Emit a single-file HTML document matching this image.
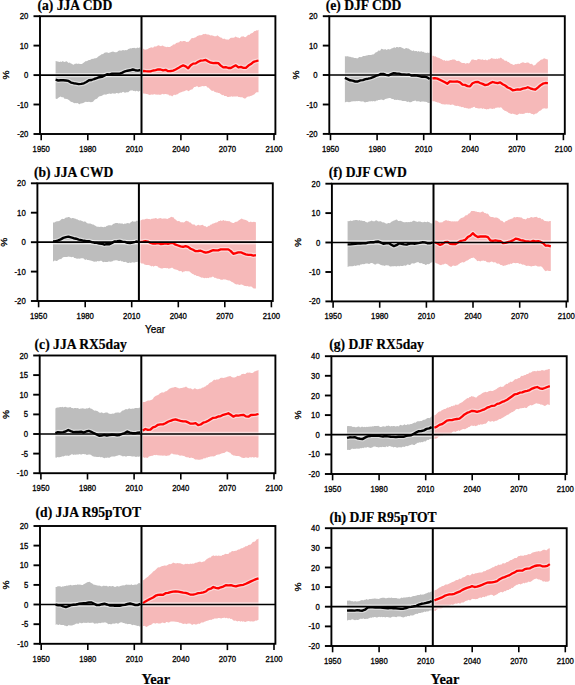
<!DOCTYPE html>
<html><head><meta charset="utf-8"><style>
html,body{margin:0;padding:0;background:#fff;}
svg{display:block;}
.tl{font-family:"Liberation Sans",sans-serif;font-size:8.4px;fill:#000;stroke:#000;stroke-width:0.3px;}
.pc{font-family:"Liberation Sans",sans-serif;font-size:10px;fill:#000;stroke:#000;stroke-width:0.3px;}
.tt{font-family:"Liberation Serif",serif;font-size:13.6px;font-weight:bold;fill:#000;stroke:#000;stroke-width:0.2px;}
.ys{font-family:"Liberation Sans",sans-serif;font-size:10px;fill:#000;stroke:#000;stroke-width:0.25px;}
.yb{font-family:"Liberation Serif",serif;font-size:14.4px;font-weight:bold;fill:#000;stroke:#000;stroke-width:0.2px;}
</style></head><body>
<svg width="575" height="685" viewBox="0 0 575 685">
<rect width="575" height="685" fill="#fff"/>
<path d="M55.6,61 L56.6,61.2 L57.7,61.6 L58.7,61.7 L59.7,62.1 L60.7,61.4 L61.7,61.9 L62.7,61.1 L63.7,61.8 L64.7,62 L65.7,61.4 L66.7,61.2 L67.7,62.3 L68.7,62.9 L69.8,62.4 L70.8,63.5 L71.8,63.7 L72.8,64.5 L73.8,64.8 L74.8,63.8 L75.8,63.8 L76.8,63.6 L77.8,63.9 L78.8,63.4 L79.8,63.9 L80.9,64.1 L81.9,64 L82.9,63.2 L83.9,62.4 L84.9,61.8 L85.9,61.1 L86.9,61.2 L87.9,60.4 L88.9,59.9 L89.9,60 L90.9,59.4 L92,58.8 L93,59 L94,58.5 L95,58.2 L96,58.3 L97,57.8 L98,56.7 L99,56 L100,55.6 L101,54.7 L102,54.1 L103,54.3 L104.1,53 L105.1,52.4 L106.1,52.6 L107.1,52.3 L108.1,53.1 L109.1,52.7 L110.1,52.6 L111.1,52.1 L112.1,51.8 L113.1,51.5 L114.1,52 L115.2,52.2 L116.2,52.3 L117.2,52 L118.2,51.1 L119.2,50.4 L120.2,50.5 L121.2,50.7 L122.2,50.2 L123.2,50.1 L124.2,50.4 L125.2,50 L126.2,50.2 L127.3,50 L128.3,49.1 L129.3,48.8 L130.3,48.3 L131.3,48.6 L132.3,48 L133.3,47.9 L134.3,47.7 L135.3,48.2 L136.3,48.2 L137.3,47.4 L138.4,48 L139.4,47.4 L140.4,47.6 L140.4,90.6 L139.4,91 L138.4,91.7 L137.3,91 L136.3,90.7 L135.3,91.4 L134.3,90.8 L133.3,90.9 L132.3,90.2 L131.3,90.4 L130.3,90.5 L129.3,91.2 L128.3,92.2 L127.3,92.3 L126.2,92.3 L125.2,92.8 L124.2,92.5 L123.2,91.7 L122.2,92.2 L121.2,93.1 L120.2,92.6 L119.2,93.3 L118.2,93.4 L117.2,92.9 L116.2,93.1 L115.2,93.7 L114.1,93.5 L113.1,93.5 L112.1,93.2 L111.1,93.9 L110.1,93.8 L109.1,93.5 L108.1,94.1 L107.1,94 L106.1,94.7 L105.1,94.4 L104.1,94.4 L103,95 L102,95.7 L101,96.1 L100,96.3 L99,96.4 L98,97.4 L97,98.7 L96,99.1 L95,99.6 L94,100.4 L93,101.8 L92,101.9 L90.9,102.2 L89.9,102 L88.9,101.8 L87.9,102 L86.9,101.9 L85.9,101.8 L84.9,101.9 L83.9,102.7 L82.9,103 L81.9,103.4 L80.9,103.3 L79.8,104.2 L78.8,103.9 L77.8,103 L76.8,103.3 L75.8,103.1 L74.8,103.3 L73.8,102.9 L72.8,102.2 L71.8,102 L70.8,101.8 L69.8,100.8 L68.7,100 L67.7,99.3 L66.7,98.9 L65.7,98.7 L64.7,98.9 L63.7,97.6 L62.7,97.3 L61.7,97.3 L60.7,96.6 L59.7,96.9 L58.7,97.6 L57.7,98.6 L56.6,98.9 L55.6,98.4Z" fill="#bdbdbd"/>
<path d="M143,48.6 L144,49.3 L145,49.7 L146,49.6 L147,49.3 L148,49 L149,48 L150,48.1 L151,47.3 L152,47.6 L153.1,47.7 L154.1,46.4 L155.1,46.4 L156.1,46.4 L157.1,45.9 L158.1,45.3 L159.1,45.6 L160.1,46 L161.1,46.2 L162.1,45.6 L163.1,45.7 L164.1,46.5 L165.1,46.6 L166.1,47.2 L167.1,46.7 L168.1,47 L169.1,47 L170.1,47 L171.1,45.9 L172.1,45.8 L173.1,44.4 L174.1,44.5 L175.1,44.2 L176.1,43.1 L177.1,42.7 L178.2,42.5 L179.2,42.3 L180.2,41.1 L181.2,41.3 L182.2,41.4 L183.2,40.9 L184.2,41.1 L185.2,40.9 L186.2,42 L187.2,41.7 L188.2,41.9 L189.2,41.1 L190.2,39.9 L191.2,38.4 L192.2,37.9 L193.2,38.3 L194.2,37.8 L195.2,37.4 L196.2,37 L197.2,36 L198.2,35.7 L199.2,35.2 L200.2,35.3 L201.2,35.2 L202.3,34.7 L203.3,33.9 L204.3,34.3 L205.3,33.7 L206.3,34.2 L207.3,34.4 L208.3,34.5 L209.3,34.8 L210.3,35.4 L211.3,35.3 L212.3,35.5 L213.3,35.7 L214.3,36.3 L215.3,36.2 L216.3,36.3 L217.3,35.3 L218.3,36.1 L219.3,36.7 L220.3,37.4 L221.3,37.6 L222.3,38.4 L223.3,39 L224.3,38.4 L225.3,39.3 L226.3,39.5 L227.4,39.4 L228.4,39.8 L229.4,39.1 L230.4,38.1 L231.4,37.7 L232.4,37.7 L233.4,37.8 L234.4,37.6 L235.4,36.5 L236.4,36.9 L237.4,37.6 L238.4,37.6 L239.4,38.2 L240.4,37.4 L241.4,36.4 L242.4,36.5 L243.4,36.3 L244.4,37 L245.4,37.2 L246.4,36.6 L247.4,35.4 L248.4,34.7 L249.4,34.9 L250.4,33.7 L251.5,33.2 L252.5,33 L253.5,31.9 L254.5,30.9 L255.5,31 L256.5,30.2 L257.5,30.4 L258.5,29.8 L258.5,92.3 L257.5,92.3 L256.5,92.3 L255.5,93.1 L254.5,94.2 L253.5,94.8 L252.5,95.3 L251.5,95.8 L250.4,95.9 L249.4,96.5 L248.4,96.6 L247.4,96.7 L246.4,97.5 L245.4,98.6 L244.4,98.6 L243.4,97.9 L242.4,97.2 L241.4,97.2 L240.4,97.2 L239.4,96.9 L238.4,96.9 L237.4,96.3 L236.4,96.4 L235.4,96.6 L234.4,96.6 L233.4,96.5 L232.4,96.7 L231.4,96.3 L230.4,96.7 L229.4,96.7 L228.4,96.9 L227.4,96.9 L226.3,96.1 L225.3,96.1 L224.3,95.9 L223.3,94.8 L222.3,95.2 L221.3,94.6 L220.3,93.7 L219.3,93 L218.3,92.9 L217.3,92.5 L216.3,92.4 L215.3,91.9 L214.3,91.7 L213.3,90.6 L212.3,91.1 L211.3,90.5 L210.3,89.5 L209.3,88.4 L208.3,87.6 L207.3,87.4 L206.3,86.1 L205.3,86.1 L204.3,86.2 L203.3,86.3 L202.3,85.9 L201.2,86.4 L200.2,86.7 L199.2,87.1 L198.2,87.3 L197.2,85.9 L196.2,86.5 L195.2,87 L194.2,87.1 L193.2,88.3 L192.2,89.6 L191.2,89.4 L190.2,90 L189.2,90.8 L188.2,91.2 L187.2,90.3 L186.2,90.3 L185.2,90.7 L184.2,91.3 L183.2,91.6 L182.2,91.8 L181.2,92.2 L180.2,92.5 L179.2,93 L178.2,93.8 L177.1,94.5 L176.1,94.4 L175.1,95.2 L174.1,94.6 L173.1,95.5 L172.1,96.4 L171.1,95.6 L170.1,95.4 L169.1,95.4 L168.1,94.3 L167.1,94.6 L166.1,94.1 L165.1,93.9 L164.1,94.3 L163.1,94.2 L162.1,93.7 L161.1,94.7 L160.1,94.8 L159.1,94.8 L158.1,94.4 L157.1,94.7 L156.1,94.5 L155.1,94.5 L154.1,94 L153.1,94.7 L152,94.6 L151,94.5 L150,95 L149,94.7 L148,94.2 L147,93.9 L146,94 L145,93.4 L144,93.7 L143,93.3Z" fill="#f6b9b9"/>
<path d="M40,75.1H275.4" stroke="#fff" stroke-opacity="0.55" stroke-width="4.4"/>
<path d="M55.6,79.7 L58.2,80.5 L60.8,80.2 L63.3,80.2 L65.9,80.5 L68.5,80.9 L71,82.6 L73.6,83.2 L76.2,83.6 L78.7,84.1 L81.3,83.9 L83.9,83.3 L86.4,82 L89,80.3 L91.6,80 L94.2,79 L96.7,78.2 L99.3,77.2 L101.9,76.8 L104.4,75.6 L107,74.2 L109.6,74.4 L112.1,73.7 L114.7,73.6 L117.3,73.6 L119.8,73.6 L122.4,72.6 L125,71.3 L127.5,70.7 L130.1,70.3 L132.7,69.5 L135.2,70.2 L137.8,70.6 L140.4,70" fill="none" stroke="#fff" stroke-opacity="0.45" stroke-width="4.8" stroke-linejoin="round"/>
<path d="M143,71 L145.5,71.2 L148,71.3 L150.5,71.4 L153.1,70.5 L155.6,70.1 L158.1,69.4 L160.6,69.5 L163.1,70.3 L165.6,69.8 L168.1,71.2 L170.6,71 L173.1,70.6 L175.6,69.5 L178.2,68.1 L180.7,66.5 L183.2,65.4 L185.7,66.3 L188.2,68.3 L190.7,65.3 L193.2,63.6 L195.7,63.4 L198.2,61.7 L200.7,60.6 L203.3,60.4 L205.8,59.9 L208.3,61.4 L210.8,62.7 L213.3,63.2 L215.8,62.8 L218.3,63.2 L220.8,65.6 L223.3,67.4 L225.8,67.2 L228.4,68 L230.9,68 L233.4,66.6 L235.9,65.3 L238.4,67.3 L240.9,66.9 L243.4,67.8 L245.9,67.8 L248.4,65.6 L250.9,64.1 L253.5,61.8 L256,61.2 L258.5,60.5" fill="none" stroke="#fff" stroke-opacity="0.45" stroke-width="4.8" stroke-linejoin="round"/>
<path d="M55.6,79.7 L58.2,80.5 L60.8,80.2 L63.3,80.2 L65.9,80.5 L68.5,80.9 L71,82.6 L73.6,83.2 L76.2,83.6 L78.7,84.1 L81.3,83.9 L83.9,83.3 L86.4,82 L89,80.3 L91.6,80 L94.2,79 L96.7,78.2 L99.3,77.2 L101.9,76.8 L104.4,75.6 L107,74.2 L109.6,74.4 L112.1,73.7 L114.7,73.6 L117.3,73.6 L119.8,73.6 L122.4,72.6 L125,71.3 L127.5,70.7 L130.1,70.3 L132.7,69.5 L135.2,70.2 L137.8,70.6 L140.4,70" fill="none" stroke="#000" stroke-width="2.4" stroke-linejoin="round"/>
<path d="M143,71 L145.5,71.2 L148,71.3 L150.5,71.4 L153.1,70.5 L155.6,70.1 L158.1,69.4 L160.6,69.5 L163.1,70.3 L165.6,69.8 L168.1,71.2 L170.6,71 L173.1,70.6 L175.6,69.5 L178.2,68.1 L180.7,66.5 L183.2,65.4 L185.7,66.3 L188.2,68.3 L190.7,65.3 L193.2,63.6 L195.7,63.4 L198.2,61.7 L200.7,60.6 L203.3,60.4 L205.8,59.9 L208.3,61.4 L210.8,62.7 L213.3,63.2 L215.8,62.8 L218.3,63.2 L220.8,65.6 L223.3,67.4 L225.8,67.2 L228.4,68 L230.9,68 L233.4,66.6 L235.9,65.3 L238.4,67.3 L240.9,66.9 L243.4,67.8 L245.9,67.8 L248.4,65.6 L250.9,64.1 L253.5,61.8 L256,61.2 L258.5,60.5" fill="none" stroke="#ff0000" stroke-width="2.3" stroke-linejoin="round"/>
<path d="M40,75.1H275.4" stroke="#000" stroke-width="1.7"/>
<path d="M141.5,16.2V134" stroke="#000" stroke-width="2"/>
<rect x="40" y="16.2" width="235.4" height="117.8" fill="none" stroke="#000" stroke-width="1.9"/>
<path d="M33.5,134H40" stroke="#000" stroke-width="1.9"/>
<text transform="translate(28.3,137) scale(0.92,1)" class="tl" text-anchor="end">-20</text>
<path d="M33.5,104.5H40" stroke="#000" stroke-width="1.9"/>
<text transform="translate(28.3,107.5) scale(0.92,1)" class="tl" text-anchor="end">-10</text>
<path d="M33.5,75.1H40" stroke="#000" stroke-width="1.9"/>
<text transform="translate(28.3,78.1) scale(0.92,1)" class="tl" text-anchor="end">0</text>
<path d="M33.5,45.6H40" stroke="#000" stroke-width="1.9"/>
<text transform="translate(28.3,48.6) scale(0.92,1)" class="tl" text-anchor="end">10</text>
<path d="M33.5,16.2H40" stroke="#000" stroke-width="1.9"/>
<text transform="translate(28.3,19.2) scale(0.92,1)" class="tl" text-anchor="end">20</text>
<path d="M41.2,134V140.3" stroke="#000" stroke-width="1.6"/>
<text transform="translate(41.2,151.9) scale(0.92,1)" class="tl" text-anchor="middle">1950</text>
<path d="M87.8,134V140.3" stroke="#000" stroke-width="1.6"/>
<text transform="translate(87.8,151.9) scale(0.92,1)" class="tl" text-anchor="middle">1980</text>
<path d="M134.3,134V140.3" stroke="#000" stroke-width="1.6"/>
<text transform="translate(134.3,151.9) scale(0.92,1)" class="tl" text-anchor="middle">2010</text>
<path d="M180.9,134V140.3" stroke="#000" stroke-width="1.6"/>
<text transform="translate(180.9,151.9) scale(0.92,1)" class="tl" text-anchor="middle">2040</text>
<path d="M227.4,134V140.3" stroke="#000" stroke-width="1.6"/>
<text transform="translate(227.4,151.9) scale(0.92,1)" class="tl" text-anchor="middle">2070</text>
<path d="M274,134V140.3" stroke="#000" stroke-width="1.6"/>
<text transform="translate(274,151.9) scale(0.92,1)" class="tl" text-anchor="middle">2100</text>
<text transform="translate(6,75.1) rotate(-90) scale(1.02,0.96)" x="0" y="3.6" class="pc" text-anchor="middle">%</text>
<text x="37.5" y="9.9" class="tt">(a) JJA CDD</text>
<path d="M53,222.3 L54,222.8 L55.1,221.9 L56.1,221.5 L57.1,221.3 L58.1,221.2 L59.1,221.1 L60.1,220.4 L61.1,219.4 L62.1,218.8 L63.1,219 L64.1,219 L65.1,218.1 L66.1,217.4 L67.2,217.5 L68.2,217 L69.2,216.9 L70.2,217.8 L71.2,218.5 L72.2,217.9 L73.2,218.1 L74.2,218.6 L75.2,218.6 L76.2,219.2 L77.2,219.2 L78.3,219.9 L79.3,220.4 L80.3,220.2 L81.3,220.7 L82.3,220.9 L83.3,221.7 L84.3,221.6 L85.3,221.5 L86.3,222.5 L87.3,223.2 L88.3,223.4 L89.4,223.6 L90.4,223.4 L91.4,224 L92.4,224.6 L93.4,224.5 L94.4,225.3 L95.4,225.7 L96.4,226.6 L97.4,226.8 L98.4,226.7 L99.4,227 L100.4,226.7 L101.5,226.8 L102.5,226.9 L103.5,227.3 L104.5,226.8 L105.5,227.1 L106.5,226.1 L107.5,225.8 L108.5,225.3 L109.5,225.3 L110.5,225.2 L111.5,225.4 L112.6,224.5 L113.6,223.8 L114.6,223.6 L115.6,223 L116.6,223.1 L117.6,223 L118.6,223.4 L119.6,223.3 L120.6,223.5 L121.6,223.6 L122.6,223.5 L123.6,224.2 L124.7,223.6 L125.7,223.8 L126.7,223.3 L127.7,223 L128.7,223.2 L129.7,223.4 L130.7,222.2 L131.7,221.7 L132.7,221.1 L133.7,221.8 L134.7,221.6 L135.8,221.4 L136.8,220.5 L137.8,221.1 L137.8,261.7 L136.8,262 L135.8,261.9 L134.7,262.5 L133.7,262.4 L132.7,262.2 L131.7,262.5 L130.7,262.9 L129.7,262.5 L128.7,263.1 L127.7,263 L126.7,262.6 L125.7,261.8 L124.7,261.9 L123.6,262 L122.6,261.2 L121.6,261.4 L120.6,260.5 L119.6,260.9 L118.6,261 L117.6,260.6 L116.6,260.2 L115.6,260.3 L114.6,260.4 L113.6,260.6 L112.6,261.3 L111.5,261.4 L110.5,261.7 L109.5,261.4 L108.5,261.5 L107.5,262.1 L106.5,262 L105.5,262.1 L104.5,261.7 L103.5,262.3 L102.5,261.8 L101.5,260.8 L100.4,260.7 L99.4,261.2 L98.4,261.2 L97.4,261 L96.4,261.7 L95.4,261.4 L94.4,261.8 L93.4,261.4 L92.4,261.1 L91.4,260.7 L90.4,260.5 L89.4,260.3 L88.3,260 L87.3,260 L86.3,259.2 L85.3,259.9 L84.3,259.2 L83.3,258.3 L82.3,258.3 L81.3,258.2 L80.3,258.4 L79.3,258.7 L78.3,258.5 L77.2,258.7 L76.2,258.4 L75.2,258.1 L74.2,257.9 L73.2,256.8 L72.2,256.9 L71.2,257.2 L70.2,256.7 L69.2,256.7 L68.2,256.4 L67.2,256.9 L66.1,257.1 L65.1,256.9 L64.1,257 L63.1,257.3 L62.1,258.1 L61.1,259.3 L60.1,259.1 L59.1,259.5 L58.1,260 L57.1,261 L56.1,261.1 L55.1,260.6 L54,260.8 L53,261.7Z" fill="#bdbdbd"/>
<path d="M140.4,220.6 L141.4,220.1 L142.4,219.4 L143.4,219.5 L144.4,219.5 L145.4,219.1 L146.4,218.8 L147.4,218.8 L148.4,219 L149.4,219.1 L150.5,219.6 L151.5,218.8 L152.5,218.8 L153.5,218.5 L154.5,218.5 L155.5,218.1 L156.5,218.2 L157.5,219 L158.5,218.6 L159.5,218.3 L160.5,217.9 L161.5,218.5 L162.5,218.8 L163.5,218.5 L164.5,218.5 L165.5,218.5 L166.5,218.8 L167.5,218.9 L168.5,218.3 L169.5,218 L170.5,217.2 L171.5,216.8 L172.5,217.3 L173.5,217.3 L174.5,218.9 L175.6,219.6 L176.6,220.6 L177.6,221.2 L178.6,220.9 L179.6,221.2 L180.6,222.3 L181.6,222.2 L182.6,222.2 L183.6,222.5 L184.6,222 L185.6,221.1 L186.6,220.8 L187.6,221.3 L188.6,221.5 L189.6,222.6 L190.6,222.5 L191.6,223.7 L192.6,224.4 L193.6,224.6 L194.6,224.5 L195.6,225.7 L196.6,225.8 L197.6,225 L198.6,224.7 L199.7,225.4 L200.7,225.2 L201.7,225 L202.7,224.8 L203.7,225.8 L204.7,226.3 L205.7,226.2 L206.7,227.3 L207.7,226.6 L208.7,225.8 L209.7,225.7 L210.7,224.5 L211.7,224.5 L212.7,223.4 L213.7,223.4 L214.7,223 L215.7,222.5 L216.7,222.5 L217.7,221.9 L218.7,220.9 L219.7,221 L220.7,220.3 L221.7,221.1 L222.7,220.4 L223.7,220.1 L224.8,221 L225.8,220.5 L226.8,221.2 L227.8,221 L228.8,221.2 L229.8,221.3 L230.8,222.3 L231.8,222.5 L232.8,223.1 L233.8,222.9 L234.8,222.3 L235.8,221.7 L236.8,221.7 L237.8,221.3 L238.8,220.2 L239.8,219.7 L240.8,219.1 L241.8,218.5 L242.8,219.3 L243.8,219.6 L244.8,219.7 L245.8,220.1 L246.8,220.4 L247.8,220.9 L248.9,222.3 L249.9,221.9 L250.9,221.4 L251.9,222.2 L252.9,221.9 L253.9,221.8 L254.9,222.1 L255.9,222.3 L255.9,288.6 L254.9,288.6 L253.9,288.5 L252.9,288.1 L251.9,286.8 L250.9,286.6 L249.9,286.5 L248.9,286.7 L247.8,286 L246.8,286.2 L245.8,285.9 L244.8,286.1 L243.8,285.6 L242.8,285 L241.8,284.4 L240.8,284.4 L239.8,284.9 L238.8,284.8 L237.8,284.2 L236.8,284.6 L235.8,284.3 L234.8,283.7 L233.8,283 L232.8,282.3 L231.8,282.1 L230.8,281.2 L229.8,280.6 L228.8,280.4 L227.8,280.3 L226.8,280.1 L225.8,279.6 L224.8,279.6 L223.7,279.2 L222.7,279.8 L221.7,279.7 L220.7,279.7 L219.7,279 L218.7,278.7 L217.7,278.8 L216.7,278.6 L215.7,277.8 L214.7,278 L213.7,277.1 L212.7,276.6 L211.7,277.2 L210.7,277.6 L209.7,277.3 L208.7,278.2 L207.7,277.8 L206.7,278.2 L205.7,277.7 L204.7,278.3 L203.7,278.1 L202.7,277.6 L201.7,277.8 L200.7,277.3 L199.7,276.7 L198.6,276.2 L197.6,276.1 L196.6,275.9 L195.6,275 L194.6,275.3 L193.6,274.2 L192.6,273.9 L191.6,273.3 L190.6,272.5 L189.6,271.5 L188.6,271.2 L187.6,271.2 L186.6,271.2 L185.6,271 L184.6,271.4 L183.6,271.5 L182.6,272.4 L181.6,271.3 L180.6,271 L179.6,271.3 L178.6,270.7 L177.6,270.1 L176.6,269.8 L175.6,269.4 L174.5,269.3 L173.5,268.8 L172.5,267.8 L171.5,267.7 L170.5,268.2 L169.5,268.6 L168.5,268.7 L167.5,268 L166.5,268.2 L165.5,267.9 L164.5,268.1 L163.5,267.9 L162.5,268.4 L161.5,268.5 L160.5,268.2 L159.5,267.8 L158.5,267.4 L157.5,266.3 L156.5,266.1 L155.5,265.8 L154.5,266 L153.5,266.7 L152.5,265.8 L151.5,266.6 L150.5,265.8 L149.4,265.3 L148.4,265 L147.4,265.1 L146.4,265 L145.4,264.7 L144.4,264.5 L143.4,263.5 L142.4,263.6 L141.4,263.6 L140.4,262.6Z" fill="#f6b9b9"/>
<path d="M37.4,242.2H272.8" stroke="#fff" stroke-opacity="0.55" stroke-width="4.4"/>
<path d="M53,241.4 L55.6,241.3 L58.2,240.4 L60.7,239.4 L63.3,237.9 L65.9,237.1 L68.4,236.6 L71,237.4 L73.6,238.2 L76.1,238.7 L78.7,239.6 L81.3,240.1 L83.8,240.8 L86.4,241.3 L89,241.1 L91.6,242.1 L94.1,242.7 L96.7,242.9 L99.3,243.5 L101.8,243.7 L104.4,244.7 L107,244 L109.5,244.2 L112.1,242.9 L114.7,241.4 L117.2,241.3 L119.8,240.9 L122.4,241.6 L124.9,241.9 L127.5,242.8 L130.1,243 L132.6,242.5 L135.2,241.9 L137.8,241.1" fill="none" stroke="#fff" stroke-opacity="0.45" stroke-width="4.8" stroke-linejoin="round"/>
<path d="M140.4,241.9 L142.9,241.7 L145.4,241.2 L147.9,241.6 L150.5,243 L153,243.6 L155.5,243.6 L158,243.2 L160.5,244 L163,243.8 L165.5,243.4 L168,243.8 L170.5,243.1 L173,243.1 L175.6,244.7 L178.1,245.5 L180.6,246.3 L183.1,246.9 L185.6,246.1 L188.1,246.9 L190.6,248.7 L193.1,249.7 L195.6,251.2 L198.1,251 L200.7,250.7 L203.2,251.8 L205.7,252.7 L208.2,252.2 L210.7,251.1 L213.2,250.2 L215.7,250.3 L218.2,250.3 L220.7,249.4 L223.2,249.3 L225.8,249.3 L228.3,249.4 L230.8,251.1 L233.3,253.8 L235.8,253.1 L238.3,252.3 L240.8,252.3 L243.3,253.4 L245.8,254.3 L248.3,254.8 L250.9,254.9 L253.4,255.6 L255.9,255.2" fill="none" stroke="#fff" stroke-opacity="0.45" stroke-width="4.8" stroke-linejoin="round"/>
<path d="M53,241.4 L55.6,241.3 L58.2,240.4 L60.7,239.4 L63.3,237.9 L65.9,237.1 L68.4,236.6 L71,237.4 L73.6,238.2 L76.1,238.7 L78.7,239.6 L81.3,240.1 L83.8,240.8 L86.4,241.3 L89,241.1 L91.6,242.1 L94.1,242.7 L96.7,242.9 L99.3,243.5 L101.8,243.7 L104.4,244.7 L107,244 L109.5,244.2 L112.1,242.9 L114.7,241.4 L117.2,241.3 L119.8,240.9 L122.4,241.6 L124.9,241.9 L127.5,242.8 L130.1,243 L132.6,242.5 L135.2,241.9 L137.8,241.1" fill="none" stroke="#000" stroke-width="2.4" stroke-linejoin="round"/>
<path d="M140.4,241.9 L142.9,241.7 L145.4,241.2 L147.9,241.6 L150.5,243 L153,243.6 L155.5,243.6 L158,243.2 L160.5,244 L163,243.8 L165.5,243.4 L168,243.8 L170.5,243.1 L173,243.1 L175.6,244.7 L178.1,245.5 L180.6,246.3 L183.1,246.9 L185.6,246.1 L188.1,246.9 L190.6,248.7 L193.1,249.7 L195.6,251.2 L198.1,251 L200.7,250.7 L203.2,251.8 L205.7,252.7 L208.2,252.2 L210.7,251.1 L213.2,250.2 L215.7,250.3 L218.2,250.3 L220.7,249.4 L223.2,249.3 L225.8,249.3 L228.3,249.4 L230.8,251.1 L233.3,253.8 L235.8,253.1 L238.3,252.3 L240.8,252.3 L243.3,253.4 L245.8,254.3 L248.3,254.8 L250.9,254.9 L253.4,255.6 L255.9,255.2" fill="none" stroke="#ff0000" stroke-width="2.3" stroke-linejoin="round"/>
<path d="M37.4,242.2H272.8" stroke="#000" stroke-width="1.7"/>
<path d="M138.9,183.3V301" stroke="#000" stroke-width="2"/>
<rect x="37.4" y="183.3" width="235.4" height="117.7" fill="none" stroke="#000" stroke-width="1.9"/>
<path d="M30.9,301H37.4" stroke="#000" stroke-width="1.9"/>
<text transform="translate(25.7,304) scale(0.92,1)" class="tl" text-anchor="end">-20</text>
<path d="M30.9,271.6H37.4" stroke="#000" stroke-width="1.9"/>
<text transform="translate(25.7,274.6) scale(0.92,1)" class="tl" text-anchor="end">-10</text>
<path d="M30.9,242.2H37.4" stroke="#000" stroke-width="1.9"/>
<text transform="translate(25.7,245.2) scale(0.92,1)" class="tl" text-anchor="end">0</text>
<path d="M30.9,212.7H37.4" stroke="#000" stroke-width="1.9"/>
<text transform="translate(25.7,215.7) scale(0.92,1)" class="tl" text-anchor="end">10</text>
<path d="M30.9,183.3H37.4" stroke="#000" stroke-width="1.9"/>
<text transform="translate(25.7,186.3) scale(0.92,1)" class="tl" text-anchor="end">20</text>
<path d="M38.6,301V307.3" stroke="#000" stroke-width="1.6"/>
<text transform="translate(38.6,318.9) scale(0.92,1)" class="tl" text-anchor="middle">1950</text>
<path d="M85.2,301V307.3" stroke="#000" stroke-width="1.6"/>
<text transform="translate(85.2,318.9) scale(0.92,1)" class="tl" text-anchor="middle">1980</text>
<path d="M131.7,301V307.3" stroke="#000" stroke-width="1.6"/>
<text transform="translate(131.7,318.9) scale(0.92,1)" class="tl" text-anchor="middle">2010</text>
<path d="M178.3,301V307.3" stroke="#000" stroke-width="1.6"/>
<text transform="translate(178.3,318.9) scale(0.92,1)" class="tl" text-anchor="middle">2040</text>
<path d="M224.8,301V307.3" stroke="#000" stroke-width="1.6"/>
<text transform="translate(224.8,318.9) scale(0.92,1)" class="tl" text-anchor="middle">2070</text>
<path d="M271.4,301V307.3" stroke="#000" stroke-width="1.6"/>
<text transform="translate(271.4,318.9) scale(0.92,1)" class="tl" text-anchor="middle">2100</text>
<text transform="translate(3.4,242.2) rotate(-90) scale(1.02,0.96)" x="0" y="3.6" class="pc" text-anchor="middle">%</text>
<text x="34" y="177.2" class="tt">(b) JJA CWD</text>
<path d="M55.4,408.6 L56.4,407.8 L57.4,407.6 L58.4,407.4 L59.4,407.3 L60.4,407.1 L61.4,407.3 L62.4,406.7 L63.4,407.5 L64.4,406.9 L65.5,406.8 L66.5,407.2 L67.5,407.5 L68.5,407.4 L69.5,407.3 L70.5,406.9 L71.5,407.9 L72.5,407.9 L73.5,408.6 L74.5,407.9 L75.6,408 L76.6,408.2 L77.6,408.1 L78.6,408.6 L79.6,408.9 L80.6,408.4 L81.6,408.6 L82.6,408.2 L83.6,408.6 L84.6,408.7 L85.7,408.7 L86.7,408.2 L87.7,408.5 L88.7,407.9 L89.7,407.5 L90.7,408.7 L91.7,408.7 L92.7,409.6 L93.7,410.2 L94.7,410.8 L95.8,410.6 L96.8,411 L97.8,411.3 L98.8,412.2 L99.8,412.7 L100.8,412.8 L101.8,412.3 L102.8,413.1 L103.8,413.3 L104.8,412.7 L105.9,412.6 L106.9,412.6 L107.9,412.8 L108.9,413.8 L109.9,413.7 L110.9,414 L111.9,413.8 L112.9,413.6 L113.9,413.7 L114.9,413 L116,412.5 L117,412.8 L118,412.2 L119,412.7 L120,412.8 L121,412 L122,410.7 L123,410.6 L124,410.2 L125,409.6 L126.1,408.9 L127.1,409.5 L128.1,409 L129.1,408.3 L130.1,408.8 L131.1,409.1 L132.1,408.5 L133.1,408.7 L134.1,408.4 L135.2,408 L136.2,408.1 L137.2,408 L138.2,408.2 L139.2,407.4 L140.2,408 L140.2,456.1 L139.2,456.8 L138.2,456.8 L137.2,456.4 L136.2,456.9 L135.2,456.8 L134.1,456.3 L133.1,456.4 L132.1,456.5 L131.1,456.3 L130.1,456.1 L129.1,456 L128.1,456 L127.1,456.1 L126.1,456.7 L125,456.3 L124,456.1 L123,456.5 L122,456 L121,455.4 L120,455.3 L119,455 L118,455.6 L117,455.7 L116,455.9 L114.9,456.4 L113.9,456.4 L112.9,456.4 L111.9,456.5 L110.9,456.8 L109.9,457.6 L108.9,457.9 L107.9,457.3 L106.9,458.1 L105.9,457.4 L104.8,458.2 L103.8,458 L102.8,457.6 L101.8,457 L100.8,457.4 L99.8,456.8 L98.8,457.1 L97.8,456.9 L96.8,457.1 L95.8,456.7 L94.7,456.7 L93.7,456.6 L92.7,456.2 L91.7,455.4 L90.7,454.7 L89.7,454.5 L88.7,454.6 L87.7,454.8 L86.7,454.9 L85.7,454.2 L84.6,454.3 L83.6,454 L82.6,454 L81.6,454.5 L80.6,454.5 L79.6,453.9 L78.6,454.5 L77.6,454.4 L76.6,454.4 L75.6,454.8 L74.5,454.5 L73.5,455 L72.5,454.3 L71.5,454.3 L70.5,454.9 L69.5,455.5 L68.5,455.9 L67.5,455.6 L66.5,455.7 L65.5,455.4 L64.4,455.9 L63.4,456.6 L62.4,456.3 L61.4,456.8 L60.4,457 L59.4,457.3 L58.4,457.3 L57.4,457.1 L56.4,457.7 L55.4,457.4Z" fill="#bdbdbd"/>
<path d="M142.8,402.2 L143.8,401.9 L144.9,402.1 L145.9,401.4 L146.9,401.1 L147.9,400.4 L148.9,400.5 L149.9,400.6 L150.9,399.9 L151.9,399.8 L152.9,399.1 L153.9,397.3 L154.9,396.5 L155.9,395.7 L156.9,395.5 L157.9,395 L158.9,394.5 L159.9,393.3 L160.9,393.1 L161.9,392.3 L162.9,392.5 L164,392.6 L165,391.4 L166,391.3 L167,390.9 L168,389.7 L169,389.2 L170,388.3 L171,388.3 L172,387.4 L173,387.8 L174,387.3 L175,386.9 L176,387 L177,387.7 L178,387.7 L179,388.4 L180,388.2 L181,388.1 L182.1,388 L183.1,387.6 L184.1,387.4 L185.1,386.9 L186.1,386.5 L187.1,387.4 L188.1,387.9 L189.1,388.6 L190.1,388.2 L191.1,388.5 L192.1,389.2 L193.1,389.5 L194.1,388.6 L195.1,388.2 L196.1,389 L197.1,389.3 L198.1,389.3 L199.1,388.8 L200.1,388.7 L201.2,388.5 L202.2,387.6 L203.2,387.8 L204.2,386.8 L205.2,386.8 L206.2,385.4 L207.2,385.3 L208.2,384.4 L209.2,383.3 L210.2,382.6 L211.2,382.2 L212.2,381.4 L213.2,380.5 L214.2,379.6 L215.2,380.2 L216.2,379.5 L217.2,379.4 L218.2,379.5 L219.3,379.1 L220.3,378.1 L221.3,377.7 L222.3,377.7 L223.3,377.9 L224.3,377.8 L225.3,377.6 L226.3,377.3 L227.3,376.7 L228.3,376.6 L229.3,376.2 L230.3,376.1 L231.3,376.8 L232.3,377.3 L233.3,377.6 L234.3,377.6 L235.3,377.3 L236.3,376.7 L237.3,375.8 L238.4,375.9 L239.4,375.7 L240.4,375.4 L241.4,374.2 L242.4,374.1 L243.4,373.7 L244.4,373.9 L245.4,373.9 L246.4,373.1 L247.4,372.6 L248.4,372.7 L249.4,372.6 L250.4,372.7 L251.4,373 L252.4,373 L253.4,372.4 L254.4,371.5 L255.4,371.3 L256.4,370.8 L257.5,370.4 L258.5,370.1 L258.5,457.2 L257.5,457.7 L256.4,457.4 L255.4,457 L254.4,457.4 L253.4,457.5 L252.4,457 L251.4,457.6 L250.4,457.2 L249.4,457.2 L248.4,457.9 L247.4,457.7 L246.4,457.5 L245.4,457.4 L244.4,458 L243.4,457.9 L242.4,457.7 L241.4,457.4 L240.4,456.8 L239.4,456.2 L238.4,456.1 L237.3,456.1 L236.3,456.1 L235.3,455.8 L234.3,455.6 L233.3,455.6 L232.3,454.7 L231.3,454.3 L230.3,452.8 L229.3,452.4 L228.3,451.9 L227.3,451.4 L226.3,451.6 L225.3,452.2 L224.3,453 L223.3,453.1 L222.3,453.2 L221.3,453.5 L220.3,453.9 L219.3,454.4 L218.2,454.5 L217.2,454.7 L216.2,455.1 L215.2,456 L214.2,456.2 L213.2,456.4 L212.2,456.2 L211.2,456.6 L210.2,456.5 L209.2,456.9 L208.2,457 L207.2,457.8 L206.2,457.5 L205.2,458.4 L204.2,458.2 L203.2,458.4 L202.2,459.5 L201.2,459.2 L200.1,459.7 L199.1,459.8 L198.1,459.8 L197.1,459.6 L196.1,459.4 L195.1,459.5 L194.1,458.7 L193.1,458.1 L192.1,458 L191.1,457.6 L190.1,457.9 L189.1,457.9 L188.1,456.9 L187.1,457.5 L186.1,457 L185.1,456.7 L184.1,455.7 L183.1,456 L182.1,455.4 L181,455.5 L180,455.8 L179,455.2 L178,454.7 L177,454.6 L176,454.7 L175,454.3 L174,454.6 L173,454.1 L172,453.6 L171,453.8 L170,455.1 L169,455.5 L168,455.5 L167,455.8 L166,455.9 L165,455.5 L164,455.6 L162.9,455.7 L161.9,455.6 L160.9,455.6 L159.9,455.4 L158.9,455.3 L157.9,455.4 L156.9,454.7 L155.9,455.3 L154.9,455.1 L153.9,455.1 L152.9,455.8 L151.9,455.7 L150.9,456.1 L149.9,456.2 L148.9,456.6 L147.9,457.7 L146.9,458 L145.9,457.3 L144.9,457.9 L143.8,457.3 L142.8,457.5Z" fill="#f6b9b9"/>
<path d="M39.7,434H275.4" stroke="#fff" stroke-opacity="0.55" stroke-width="4.4"/>
<path d="M55.4,433.2 L57.9,432.2 L60.5,432.4 L63.1,432.1 L65.6,431.5 L68.2,430 L70.8,431.2 L73.4,432.1 L75.9,432 L78.5,432 L81.1,431.7 L83.6,432.6 L86.2,431.5 L88.8,430.9 L91.3,431.8 L93.9,433.2 L96.5,434.4 L99.1,435.7 L101.6,435.6 L104.2,434.9 L106.8,435.5 L109.3,435.1 L111.9,434.8 L114.5,434.9 L117.1,435.4 L119.6,435 L122.2,433.9 L124.8,433.1 L127.3,431.5 L129.9,432.6 L132.5,433.2 L135.1,433.3 L137.6,432.7 L140.2,432.5" fill="none" stroke="#fff" stroke-opacity="0.45" stroke-width="4.8" stroke-linejoin="round"/>
<path d="M142.8,430.5 L145.4,429 L147.9,429.8 L150.4,429.7 L152.9,427.3 L155.4,426.6 L157.9,424.8 L160.4,424.3 L162.9,424.4 L165.5,423.3 L168,421.8 L170.5,420.8 L173,419.9 L175.5,419.3 L178,420.2 L180.5,420.8 L183.1,421.3 L185.6,421.4 L188.1,422.4 L190.6,423.7 L193.1,423.6 L195.6,423.1 L198.1,425.1 L200.7,424.5 L203.2,422.7 L205.7,422 L208.2,420.7 L210.7,419.2 L213.2,417.8 L215.7,417.6 L218.2,416.5 L220.8,416.1 L223.3,414.8 L225.8,414.2 L228.3,413.2 L230.8,414.8 L233.3,416.6 L235.8,415.5 L238.4,415.6 L240.9,415.2 L243.4,414.8 L245.9,416.4 L248.4,416.7 L250.9,415 L253.4,414.9 L255.9,414.6 L258.5,414" fill="none" stroke="#fff" stroke-opacity="0.45" stroke-width="4.8" stroke-linejoin="round"/>
<path d="M55.4,433.2 L57.9,432.2 L60.5,432.4 L63.1,432.1 L65.6,431.5 L68.2,430 L70.8,431.2 L73.4,432.1 L75.9,432 L78.5,432 L81.1,431.7 L83.6,432.6 L86.2,431.5 L88.8,430.9 L91.3,431.8 L93.9,433.2 L96.5,434.4 L99.1,435.7 L101.6,435.6 L104.2,434.9 L106.8,435.5 L109.3,435.1 L111.9,434.8 L114.5,434.9 L117.1,435.4 L119.6,435 L122.2,433.9 L124.8,433.1 L127.3,431.5 L129.9,432.6 L132.5,433.2 L135.1,433.3 L137.6,432.7 L140.2,432.5" fill="none" stroke="#000" stroke-width="2.4" stroke-linejoin="round"/>
<path d="M142.8,430.5 L145.4,429 L147.9,429.8 L150.4,429.7 L152.9,427.3 L155.4,426.6 L157.9,424.8 L160.4,424.3 L162.9,424.4 L165.5,423.3 L168,421.8 L170.5,420.8 L173,419.9 L175.5,419.3 L178,420.2 L180.5,420.8 L183.1,421.3 L185.6,421.4 L188.1,422.4 L190.6,423.7 L193.1,423.6 L195.6,423.1 L198.1,425.1 L200.7,424.5 L203.2,422.7 L205.7,422 L208.2,420.7 L210.7,419.2 L213.2,417.8 L215.7,417.6 L218.2,416.5 L220.8,416.1 L223.3,414.8 L225.8,414.2 L228.3,413.2 L230.8,414.8 L233.3,416.6 L235.8,415.5 L238.4,415.6 L240.9,415.2 L243.4,414.8 L245.9,416.4 L248.4,416.7 L250.9,415 L253.4,414.9 L255.9,414.6 L258.5,414" fill="none" stroke="#ff0000" stroke-width="2.3" stroke-linejoin="round"/>
<path d="M39.7,434H275.4" stroke="#000" stroke-width="1.7"/>
<path d="M141.3,355.5V473.2" stroke="#000" stroke-width="2"/>
<rect x="39.7" y="355.5" width="235.7" height="117.7" fill="none" stroke="#000" stroke-width="1.9"/>
<path d="M33.2,473.2H39.7" stroke="#000" stroke-width="1.9"/>
<text transform="translate(28,476.2) scale(0.92,1)" class="tl" text-anchor="end">-10</text>
<path d="M33.2,453.6H39.7" stroke="#000" stroke-width="1.9"/>
<text transform="translate(28,456.6) scale(0.92,1)" class="tl" text-anchor="end">-5</text>
<path d="M33.2,434H39.7" stroke="#000" stroke-width="1.9"/>
<text transform="translate(28,437) scale(0.92,1)" class="tl" text-anchor="end">0</text>
<path d="M33.2,414.4H39.7" stroke="#000" stroke-width="1.9"/>
<text transform="translate(28,417.4) scale(0.92,1)" class="tl" text-anchor="end">5</text>
<path d="M33.2,394.7H39.7" stroke="#000" stroke-width="1.9"/>
<text transform="translate(28,397.7) scale(0.92,1)" class="tl" text-anchor="end">10</text>
<path d="M33.2,375.1H39.7" stroke="#000" stroke-width="1.9"/>
<text transform="translate(28,378.1) scale(0.92,1)" class="tl" text-anchor="end">15</text>
<path d="M33.2,355.5H39.7" stroke="#000" stroke-width="1.9"/>
<text transform="translate(28,358.5) scale(0.92,1)" class="tl" text-anchor="end">20</text>
<path d="M40.9,473.2V479.5" stroke="#000" stroke-width="1.6"/>
<text transform="translate(40.9,491.1) scale(0.92,1)" class="tl" text-anchor="middle">1950</text>
<path d="M87.5,473.2V479.5" stroke="#000" stroke-width="1.6"/>
<text transform="translate(87.5,491.1) scale(0.92,1)" class="tl" text-anchor="middle">1980</text>
<path d="M134.1,473.2V479.5" stroke="#000" stroke-width="1.6"/>
<text transform="translate(134.1,491.1) scale(0.92,1)" class="tl" text-anchor="middle">2010</text>
<path d="M180.8,473.2V479.5" stroke="#000" stroke-width="1.6"/>
<text transform="translate(180.8,491.1) scale(0.92,1)" class="tl" text-anchor="middle">2040</text>
<path d="M227.4,473.2V479.5" stroke="#000" stroke-width="1.6"/>
<text transform="translate(227.4,491.1) scale(0.92,1)" class="tl" text-anchor="middle">2070</text>
<path d="M274,473.2V479.5" stroke="#000" stroke-width="1.6"/>
<text transform="translate(274,491.1) scale(0.92,1)" class="tl" text-anchor="middle">2100</text>
<text transform="translate(5.7,414.4) rotate(-90) scale(1.02,0.96)" x="0" y="3.6" class="pc" text-anchor="middle">%</text>
<text x="34.6" y="348.6" class="tt">(c) JJA RX5day</text>
<path d="M55.6,586.9 L56.6,586.9 L57.7,586.2 L58.7,586.2 L59.7,586.3 L60.7,586.5 L61.7,587.1 L62.7,586.2 L63.7,586.4 L64.7,586 L65.7,585.9 L66.7,585.5 L67.7,585.8 L68.7,585.3 L69.8,585.3 L70.8,584.7 L71.8,585.5 L72.8,585.2 L73.8,585 L74.8,585.1 L75.8,584.8 L76.8,585.1 L77.8,584.2 L78.8,584.7 L79.8,584.4 L80.9,584.7 L81.9,584.9 L82.9,585 L83.9,583.9 L84.9,583.8 L85.9,583 L86.9,582.5 L87.9,582.1 L88.9,582 L89.9,581.7 L90.9,583.1 L92,583.3 L93,584.3 L94,584.7 L95,584.8 L96,585.2 L97,585.3 L98,585.7 L99,585.4 L100,585.7 L101,586.2 L102,586.4 L103,585.8 L104.1,585.8 L105.1,585.9 L106.1,585.8 L107.1,585.9 L108.1,586.8 L109.1,586.1 L110.1,585.9 L111.1,586.4 L112.1,586 L113.1,586 L114.1,586.7 L115.2,587.1 L116.2,586.6 L117.2,586.1 L118.2,586.6 L119.2,586.4 L120.2,586.1 L121.2,585.7 L122.2,585.5 L123.2,585.2 L124.2,585.5 L125.2,585.1 L126.2,584.5 L127.3,584.8 L128.3,584.7 L129.3,584.7 L130.3,585 L131.3,584.3 L132.3,584.9 L133.3,585.1 L134.3,584.8 L135.3,584.6 L136.3,584.7 L137.3,584.3 L138.4,583.3 L139.4,583 L140.4,583.7 L140.4,626.2 L139.4,626.6 L138.4,625.8 L137.3,626 L136.3,625.4 L135.3,625.3 L134.3,625.1 L133.3,624.7 L132.3,625.3 L131.3,624.6 L130.3,624 L129.3,624 L128.3,624.1 L127.3,624.3 L126.2,623.4 L125.2,623.8 L124.2,623 L123.2,623 L122.2,622.6 L121.2,622.3 L120.2,622.6 L119.2,622.9 L118.2,623.8 L117.2,623.4 L116.2,623 L115.2,623.5 L114.1,623.7 L113.1,623.4 L112.1,623.8 L111.1,624.6 L110.1,624.1 L109.1,624 L108.1,624.3 L107.1,623.1 L106.1,622.8 L105.1,622.3 L104.1,622.5 L103,622.8 L102,622.6 L101,623.1 L100,623.2 L99,622.8 L98,623.5 L97,623.4 L96,623.2 L95,623.7 L94,623.6 L93,622.6 L92,622.7 L90.9,622.8 L89.9,622.9 L88.9,622.8 L87.9,622.4 L86.9,622.9 L85.9,622.7 L84.9,623.1 L83.9,622.4 L82.9,622.9 L81.9,623.2 L80.9,623.2 L79.8,622.6 L78.8,623.8 L77.8,623.8 L76.8,623.5 L75.8,623.7 L74.8,624.6 L73.8,624.8 L72.8,625.2 L71.8,625.5 L70.8,625.4 L69.8,625.4 L68.7,625.1 L67.7,626 L66.7,626.2 L65.7,625.8 L64.7,625.7 L63.7,625.1 L62.7,625 L61.7,625.1 L60.7,624.9 L59.7,624.3 L58.7,625 L57.7,624.7 L56.6,624.2 L55.6,624.9Z" fill="#bdbdbd"/>
<path d="M143,580.2 L144,579.9 L145,578.8 L146,578.3 L147,577.3 L148,576.8 L149,575.4 L150,574.7 L151,573.7 L152,572.9 L153.1,571.6 L154.1,571.1 L155.1,570.3 L156.1,569.2 L157.1,568.2 L158.1,567.2 L159.1,567.5 L160.1,567 L161.1,566.4 L162.1,566.1 L163.1,565.9 L164.1,565.4 L165.1,565.4 L166.1,565.7 L167.1,565.3 L168.1,564.7 L169.1,564.1 L170.1,564.3 L171.1,564 L172.1,563.4 L173.1,562.6 L174.1,563.1 L175.1,563.2 L176.1,563.5 L177.1,563 L178.2,563.3 L179.2,563.3 L180.2,563.2 L181.2,563.8 L182.2,563.9 L183.2,564.5 L184.2,564.6 L185.2,563.8 L186.2,564.1 L187.2,563.7 L188.2,564.1 L189.2,564.2 L190.2,563.4 L191.2,563.9 L192.2,563.6 L193.2,563.7 L194.2,563.5 L195.2,562.7 L196.2,562.7 L197.2,562.6 L198.2,562 L199.2,561.7 L200.2,561.5 L201.2,562.3 L202.3,562.1 L203.3,561.6 L204.3,561.4 L205.3,560.4 L206.3,559.6 L207.3,558.8 L208.3,558.2 L209.3,557.6 L210.3,557.7 L211.3,556.4 L212.3,556 L213.3,555.3 L214.3,556 L215.3,555.7 L216.3,555.4 L217.3,556 L218.3,555.5 L219.3,555.7 L220.3,555.7 L221.3,555.9 L222.3,555.1 L223.3,554.9 L224.3,554.4 L225.3,553.7 L226.3,554 L227.4,554 L228.4,553.9 L229.4,552.6 L230.4,552.6 L231.4,551.6 L232.4,550.9 L233.4,551.2 L234.4,551 L235.4,550.7 L236.4,550.8 L237.4,549.9 L238.4,549.6 L239.4,549.5 L240.4,548.8 L241.4,548.2 L242.4,548.3 L243.4,547.5 L244.4,547.3 L245.4,546.3 L246.4,546.2 L247.4,546 L248.4,545 L249.4,544.8 L250.4,544.7 L251.5,543.7 L252.5,542.3 L253.5,541.8 L254.5,541.7 L255.5,540.9 L256.5,539.6 L257.5,539.3 L258.5,538.6 L258.5,619.7 L257.5,620.3 L256.5,620.8 L255.5,620.4 L254.5,621.3 L253.5,621.5 L252.5,621.5 L251.5,621.2 L250.4,621.5 L249.4,621.3 L248.4,621 L247.4,621.3 L246.4,621.5 L245.4,622 L244.4,621.8 L243.4,621.3 L242.4,621.7 L241.4,621.1 L240.4,621.7 L239.4,620.9 L238.4,621.1 L237.4,621.4 L236.4,621.1 L235.4,620.6 L234.4,620.8 L233.4,620.4 L232.4,619.5 L231.4,618.7 L230.4,619 L229.4,618.1 L228.4,618.4 L227.4,618.3 L226.3,617.7 L225.3,618.2 L224.3,617.6 L223.3,618 L222.3,618.1 L221.3,618.6 L220.3,618.3 L219.3,618 L218.3,617.9 L217.3,618.4 L216.3,618.6 L215.3,618.6 L214.3,618.5 L213.3,619.3 L212.3,619.3 L211.3,620 L210.3,619.7 L209.3,619.9 L208.3,620.5 L207.3,620.8 L206.3,621.1 L205.3,621.5 L204.3,621.7 L203.3,622.4 L202.3,622.5 L201.2,622.6 L200.2,623.4 L199.2,623.9 L198.2,623.5 L197.2,624.3 L196.2,624.6 L195.2,624.4 L194.2,623.9 L193.2,624.2 L192.2,624.9 L191.2,624.3 L190.2,623.4 L189.2,623.6 L188.2,623.5 L187.2,623.8 L186.2,624.2 L185.2,623.6 L184.2,623.7 L183.2,623.9 L182.2,623.6 L181.2,622.9 L180.2,622.8 L179.2,622.8 L178.2,622.1 L177.1,622.1 L176.1,621.8 L175.1,621.7 L174.1,621.5 L173.1,621.6 L172.1,621.4 L171.1,621.5 L170.1,621.8 L169.1,622.4 L168.1,622.5 L167.1,622.1 L166.1,622.1 L165.1,623.2 L164.1,623.1 L163.1,622.7 L162.1,622.4 L161.1,623.3 L160.1,623.5 L159.1,623.5 L158.1,623.6 L157.1,623 L156.1,623.3 L155.1,623.7 L154.1,622.9 L153.1,623.3 L152,623.9 L151,624.9 L150,625.1 L149,625.4 L148,626.1 L147,626.7 L146,626.9 L145,625.8 L144,626 L143,626Z" fill="#f6b9b9"/>
<path d="M40,604.5H275.4" stroke="#fff" stroke-opacity="0.55" stroke-width="4.4"/>
<path d="M55.6,604.7 L58.2,605.2 L60.8,605.3 L63.3,606.4 L65.9,607.1 L68.5,606.2 L71,605.1 L73.6,604.8 L76.2,604.5 L78.7,603.8 L81.3,603.4 L83.9,603.1 L86.4,602.9 L89,602.5 L91.6,602.5 L94.2,603.8 L96.7,605.1 L99.3,605.1 L101.9,604.2 L104.4,603.7 L107,604.5 L109.6,605.5 L112.1,605.2 L114.7,605.7 L117.3,605.5 L119.8,605.8 L122.4,605.1 L125,604.9 L127.5,604 L130.1,603.5 L132.7,604.1 L135.2,605.1 L137.8,605.1 L140.4,603.8" fill="none" stroke="#fff" stroke-opacity="0.45" stroke-width="4.8" stroke-linejoin="round"/>
<path d="M143,603.1 L145.5,601.4 L148,600.1 L150.5,598.7 L153.1,597.5 L155.6,595.7 L158.1,594.9 L160.6,594.6 L163.1,594.8 L165.6,593.2 L168.1,592.9 L170.6,592.1 L173.1,591.7 L175.6,591.4 L178.2,591.7 L180.7,592.2 L183.2,592.7 L185.7,592.9 L188.2,593.7 L190.7,594.7 L193.2,594.7 L195.7,594 L198.2,593.2 L200.7,592.9 L203.3,592.3 L205.8,591.5 L208.3,589.3 L210.8,588.7 L213.3,587 L215.8,587.8 L218.3,588.4 L220.8,587.3 L223.3,586.6 L225.8,585.2 L228.4,585.3 L230.9,585.2 L233.4,585.9 L235.9,586.3 L238.4,585.6 L240.9,585.1 L243.4,584.8 L245.9,583.8 L248.4,582.6 L250.9,581.4 L253.5,580.2 L256,579.1 L258.5,578.4" fill="none" stroke="#fff" stroke-opacity="0.45" stroke-width="4.8" stroke-linejoin="round"/>
<path d="M55.6,604.7 L58.2,605.2 L60.8,605.3 L63.3,606.4 L65.9,607.1 L68.5,606.2 L71,605.1 L73.6,604.8 L76.2,604.5 L78.7,603.8 L81.3,603.4 L83.9,603.1 L86.4,602.9 L89,602.5 L91.6,602.5 L94.2,603.8 L96.7,605.1 L99.3,605.1 L101.9,604.2 L104.4,603.7 L107,604.5 L109.6,605.5 L112.1,605.2 L114.7,605.7 L117.3,605.5 L119.8,605.8 L122.4,605.1 L125,604.9 L127.5,604 L130.1,603.5 L132.7,604.1 L135.2,605.1 L137.8,605.1 L140.4,603.8" fill="none" stroke="#000" stroke-width="2.4" stroke-linejoin="round"/>
<path d="M143,603.1 L145.5,601.4 L148,600.1 L150.5,598.7 L153.1,597.5 L155.6,595.7 L158.1,594.9 L160.6,594.6 L163.1,594.8 L165.6,593.2 L168.1,592.9 L170.6,592.1 L173.1,591.7 L175.6,591.4 L178.2,591.7 L180.7,592.2 L183.2,592.7 L185.7,592.9 L188.2,593.7 L190.7,594.7 L193.2,594.7 L195.7,594 L198.2,593.2 L200.7,592.9 L203.3,592.3 L205.8,591.5 L208.3,589.3 L210.8,588.7 L213.3,587 L215.8,587.8 L218.3,588.4 L220.8,587.3 L223.3,586.6 L225.8,585.2 L228.4,585.3 L230.9,585.2 L233.4,585.9 L235.9,586.3 L238.4,585.6 L240.9,585.1 L243.4,584.8 L245.9,583.8 L248.4,582.6 L250.9,581.4 L253.5,580.2 L256,579.1 L258.5,578.4" fill="none" stroke="#ff0000" stroke-width="2.3" stroke-linejoin="round"/>
<path d="M40,604.5H275.4" stroke="#000" stroke-width="1.7"/>
<path d="M141.5,526V643.8" stroke="#000" stroke-width="2"/>
<rect x="40" y="526" width="235.4" height="117.8" fill="none" stroke="#000" stroke-width="1.9"/>
<path d="M33.5,643.8H40" stroke="#000" stroke-width="1.9"/>
<text transform="translate(28.3,646.8) scale(0.92,1)" class="tl" text-anchor="end">-10</text>
<path d="M33.5,624.2H40" stroke="#000" stroke-width="1.9"/>
<text transform="translate(28.3,627.2) scale(0.92,1)" class="tl" text-anchor="end">-5</text>
<path d="M33.5,604.5H40" stroke="#000" stroke-width="1.9"/>
<text transform="translate(28.3,607.5) scale(0.92,1)" class="tl" text-anchor="end">0</text>
<path d="M33.5,584.9H40" stroke="#000" stroke-width="1.9"/>
<text transform="translate(28.3,587.9) scale(0.92,1)" class="tl" text-anchor="end">5</text>
<path d="M33.5,565.3H40" stroke="#000" stroke-width="1.9"/>
<text transform="translate(28.3,568.3) scale(0.92,1)" class="tl" text-anchor="end">10</text>
<path d="M33.5,545.6H40" stroke="#000" stroke-width="1.9"/>
<text transform="translate(28.3,548.6) scale(0.92,1)" class="tl" text-anchor="end">15</text>
<path d="M33.5,526H40" stroke="#000" stroke-width="1.9"/>
<text transform="translate(28.3,529) scale(0.92,1)" class="tl" text-anchor="end">20</text>
<path d="M41.2,643.8V650.1" stroke="#000" stroke-width="1.6"/>
<text transform="translate(41.2,661.7) scale(0.92,1)" class="tl" text-anchor="middle">1950</text>
<path d="M87.8,643.8V650.1" stroke="#000" stroke-width="1.6"/>
<text transform="translate(87.8,661.7) scale(0.92,1)" class="tl" text-anchor="middle">1980</text>
<path d="M134.3,643.8V650.1" stroke="#000" stroke-width="1.6"/>
<text transform="translate(134.3,661.7) scale(0.92,1)" class="tl" text-anchor="middle">2010</text>
<path d="M180.9,643.8V650.1" stroke="#000" stroke-width="1.6"/>
<text transform="translate(180.9,661.7) scale(0.92,1)" class="tl" text-anchor="middle">2040</text>
<path d="M227.4,643.8V650.1" stroke="#000" stroke-width="1.6"/>
<text transform="translate(227.4,661.7) scale(0.92,1)" class="tl" text-anchor="middle">2070</text>
<path d="M274,643.8V650.1" stroke="#000" stroke-width="1.6"/>
<text transform="translate(274,661.7) scale(0.92,1)" class="tl" text-anchor="middle">2100</text>
<text transform="translate(6,584.9) rotate(-90) scale(1.02,0.96)" x="0" y="3.6" class="pc" text-anchor="middle">%</text>
<text x="35.6" y="516.7" class="tt">(d) JJA R95pTOT</text>
<path d="M344.9,55.9 L345.9,56.5 L347,56.3 L348,56.2 L349,56.7 L350,56.8 L351,57.1 L352,57.6 L353,57.3 L354,57.9 L355,57.9 L356,57.9 L357.1,58.4 L358.1,57.9 L359.1,57.1 L360.1,57 L361.1,57.2 L362.1,56.7 L363.1,56 L364.1,56.1 L365.1,56 L366.1,55.5 L367.1,55.6 L368.2,54.9 L369.2,54.9 L370.2,55.1 L371.2,55.1 L372.2,54.6 L373.2,54.5 L374.2,53.9 L375.2,52.8 L376.2,52.3 L377.2,52 L378.2,50.6 L379.3,50.7 L380.3,50.4 L381.3,48.8 L382.3,49.1 L383.3,49.4 L384.3,49.6 L385.3,49.1 L386.3,49.9 L387.3,49.6 L388.3,49.1 L389.3,49.4 L390.4,49.2 L391.4,48.5 L392.4,48.3 L393.4,47.7 L394.4,47.2 L395.4,47.9 L396.4,46.9 L397.4,46.9 L398.4,47.5 L399.4,46.9 L400.4,46.9 L401.5,47.6 L402.5,48.1 L403.5,48.6 L404.5,49 L405.5,48.2 L406.5,47.9 L407.5,48.6 L408.5,48.4 L409.5,49.3 L410.5,50.1 L411.5,50.5 L412.6,50.9 L413.6,50.3 L414.6,51.2 L415.6,51.1 L416.6,51.1 L417.6,51.8 L418.6,51.1 L419.6,51.7 L420.6,51.4 L421.6,51.2 L422.7,52 L423.7,51.7 L424.7,52.8 L425.7,52.8 L426.7,53 L427.7,52.5 L428.7,52.9 L429.7,52.5 L429.7,103 L428.7,103.1 L427.7,102.8 L426.7,102.1 L425.7,101.7 L424.7,101.8 L423.7,101.5 L422.7,101.5 L421.6,101.5 L420.6,101.9 L419.6,101.4 L418.6,101.2 L417.6,101.3 L416.6,101.5 L415.6,100.5 L414.6,100.8 L413.6,101 L412.6,101.3 L411.5,102.1 L410.5,102.3 L409.5,102.3 L408.5,101.5 L407.5,101.9 L406.5,101.4 L405.5,101.1 L404.5,101 L403.5,100.9 L402.5,100.9 L401.5,100.6 L400.4,100.2 L399.4,100.2 L398.4,99.9 L397.4,99.8 L396.4,100.1 L395.4,99.7 L394.4,100.1 L393.4,99 L392.4,98.9 L391.4,98.8 L390.4,98.1 L389.3,98 L388.3,98.2 L387.3,98.5 L386.3,98.8 L385.3,99.1 L384.3,99.8 L383.3,100.2 L382.3,99.7 L381.3,99.5 L380.3,99.8 L379.3,100.1 L378.2,100.1 L377.2,100.8 L376.2,100.6 L375.2,101.6 L374.2,101.3 L373.2,100.9 L372.2,101.5 L371.2,100.9 L370.2,101.5 L369.2,101.2 L368.2,101.8 L367.1,102.1 L366.1,102.1 L365.1,102.4 L364.1,102 L363.1,101.2 L362.1,101.6 L361.1,101.5 L360.1,101.2 L359.1,100.9 L358.1,100.9 L357.1,101.3 L356,101.1 L355,101.5 L354,101.1 L353,101.4 L352,101.3 L351,101.8 L350,102 L349,102.3 L348,101.9 L347,101.8 L345.9,102 L344.9,102.6Z" fill="#bdbdbd"/>
<path d="M432.4,55.7 L433.4,55.8 L434.4,56.5 L435.4,56.3 L436.4,56.9 L437.4,57.6 L438.4,57.7 L439.4,58.1 L440.4,58.8 L441.4,59 L442.4,59.8 L443.4,60.4 L444.4,60 L445.4,60.9 L446.4,60.4 L447.4,60.7 L448.4,60.8 L449.4,60.4 L450.4,60 L451.4,60 L452.4,59.4 L453.4,59.5 L454.5,59.4 L455.5,60.1 L456.5,61 L457.5,61 L458.5,60.7 L459.5,61.3 L460.5,61.9 L461.5,62.8 L462.5,63.1 L463.5,63.1 L464.5,62.9 L465.5,63.8 L466.5,63.2 L467.5,63.1 L468.5,63.6 L469.5,62.9 L470.5,61.6 L471.5,59.8 L472.5,59.6 L473.5,59.4 L474.5,59.9 L475.5,60 L476.6,60.2 L477.6,59.2 L478.6,59 L479.6,59.3 L480.6,59.5 L481.6,59.7 L482.6,59.3 L483.6,60.1 L484.6,60.1 L485.6,59.6 L486.6,60.2 L487.6,60.3 L488.6,59.2 L489.6,59.5 L490.6,58.7 L491.6,58 L492.6,58.4 L493.6,58.8 L494.6,58.7 L495.6,59 L496.6,58.6 L497.6,59 L498.7,58.2 L499.7,58.4 L500.7,57.6 L501.7,58.3 L502.7,59.3 L503.7,59.5 L504.7,60.8 L505.7,60.7 L506.7,60.8 L507.7,62.1 L508.7,62.1 L509.7,63 L510.7,63.7 L511.7,64 L512.7,64.5 L513.7,65.1 L514.7,64.6 L515.7,64 L516.7,64.2 L517.7,63.7 L518.7,63.7 L519.7,63.9 L520.8,63 L521.8,62.7 L522.8,62.3 L523.8,62.6 L524.8,62.9 L525.8,62.9 L526.8,62.4 L527.8,62.4 L528.8,62.8 L529.8,63.8 L530.8,64 L531.8,63.8 L532.8,64.7 L533.8,65.7 L534.8,65 L535.8,64.5 L536.8,63.1 L537.8,62.3 L538.8,61.6 L539.8,60.7 L540.8,59.8 L541.8,59.6 L542.9,59.2 L543.9,58.2 L544.9,58.6 L545.9,58.9 L546.9,59.3 L547.9,59.4 L547.9,108.3 L546.9,108.6 L545.9,108.7 L544.9,108.3 L543.9,108.4 L542.9,108.5 L541.8,109.5 L540.8,110.6 L539.8,110.8 L538.8,111.6 L537.8,112.5 L536.8,113.5 L535.8,113.5 L534.8,113.9 L533.8,114.8 L532.8,114 L531.8,114 L530.8,113.6 L529.8,112.8 L528.8,113.2 L527.8,112.8 L526.8,113 L525.8,112.8 L524.8,113.5 L523.8,113.7 L522.8,113.9 L521.8,113.8 L520.8,113.9 L519.7,113.5 L518.7,113.9 L517.7,114.8 L516.7,114.9 L515.7,114.5 L514.7,114.2 L513.7,113.9 L512.7,113.5 L511.7,113.9 L510.7,113.8 L509.7,113.2 L508.7,113.1 L507.7,111.9 L506.7,111.6 L505.7,111.1 L504.7,110.7 L503.7,109.9 L502.7,109.3 L501.7,107.7 L500.7,107.3 L499.7,107.7 L498.7,107.5 L497.6,107.5 L496.6,107.7 L495.6,107.8 L494.6,108.8 L493.6,108.5 L492.6,109 L491.6,108.7 L490.6,108.4 L489.6,108.4 L488.6,109.3 L487.6,109.1 L486.6,109.5 L485.6,108.9 L484.6,109.1 L483.6,108.3 L482.6,108.9 L481.6,108.2 L480.6,108.3 L479.6,108.4 L478.6,108.5 L477.6,108.3 L476.6,108 L475.5,108 L474.5,106.8 L473.5,107.1 L472.5,107.8 L471.5,107.7 L470.5,108.5 L469.5,108.5 L468.5,108.7 L467.5,108.3 L466.5,108.3 L465.5,107.7 L464.5,107.9 L463.5,107.2 L462.5,107 L461.5,107.3 L460.5,106.6 L459.5,106.5 L458.5,105.9 L457.5,105.8 L456.5,106.1 L455.5,105.8 L454.5,105.4 L453.4,104.8 L452.4,104.5 L451.4,104.7 L450.4,105.1 L449.4,104.5 L448.4,104.5 L447.4,104.6 L446.4,104.2 L445.4,104.6 L444.4,104.5 L443.4,104.3 L442.4,104.2 L441.4,104.1 L440.4,103.2 L439.4,102.9 L438.4,102.4 L437.4,102.4 L436.4,102 L435.4,101.7 L434.4,101.3 L433.4,101.3 L432.4,101.2Z" fill="#f6b9b9"/>
<path d="M329.3,75H564.8" stroke="#fff" stroke-opacity="0.55" stroke-width="4.4"/>
<path d="M344.9,77.9 L347.5,79.1 L350.1,80.3 L352.6,80.6 L355.2,81.5 L357.8,81.5 L360.4,80.4 L362.9,80.1 L365.5,79.1 L368.1,78.7 L370.6,78.1 L373.2,77.2 L375.8,75.9 L378.3,75.2 L380.9,73.9 L383.5,74 L386,74.8 L388.6,75.4 L391.2,74.2 L393.7,73.1 L396.3,73.5 L398.9,73.6 L401.5,74.4 L404,74.4 L406.6,74.6 L409.2,74.5 L411.7,75.6 L414.3,75.3 L416.9,75.5 L419.4,76.1 L422,76.8 L424.6,76.6 L427.1,77.3 L429.7,78.9" fill="none" stroke="#fff" stroke-opacity="0.45" stroke-width="4.8" stroke-linejoin="round"/>
<path d="M432.4,78.4 L434.9,78.1 L437.4,78.6 L439.9,79.8 L442.4,81 L444.9,82.3 L447.4,83.7 L449.9,81.3 L452.4,81.6 L455,81.6 L457.5,81.5 L460,82.4 L462.5,84.6 L465,84.9 L467.5,86.1 L470,86.4 L472.5,83.2 L475,82.2 L477.6,81.8 L480.1,83 L482.6,83.9 L485.1,85.1 L487.6,84.7 L490.1,83.1 L492.6,82 L495.1,82.7 L497.6,83.1 L500.2,82.4 L502.7,84.2 L505.2,85.5 L507.7,87.5 L510.2,88.5 L512.7,90.3 L515.2,89.9 L517.7,89.4 L520.2,89.6 L522.8,88.6 L525.3,88.2 L527.8,87.2 L530.3,88.3 L532.8,89.1 L535.3,89.7 L537.8,87.6 L540.3,85.4 L542.9,83.7 L545.4,83 L547.9,83.1" fill="none" stroke="#fff" stroke-opacity="0.45" stroke-width="4.8" stroke-linejoin="round"/>
<path d="M344.9,77.9 L347.5,79.1 L350.1,80.3 L352.6,80.6 L355.2,81.5 L357.8,81.5 L360.4,80.4 L362.9,80.1 L365.5,79.1 L368.1,78.7 L370.6,78.1 L373.2,77.2 L375.8,75.9 L378.3,75.2 L380.9,73.9 L383.5,74 L386,74.8 L388.6,75.4 L391.2,74.2 L393.7,73.1 L396.3,73.5 L398.9,73.6 L401.5,74.4 L404,74.4 L406.6,74.6 L409.2,74.5 L411.7,75.6 L414.3,75.3 L416.9,75.5 L419.4,76.1 L422,76.8 L424.6,76.6 L427.1,77.3 L429.7,78.9" fill="none" stroke="#000" stroke-width="2.4" stroke-linejoin="round"/>
<path d="M432.4,78.4 L434.9,78.1 L437.4,78.6 L439.9,79.8 L442.4,81 L444.9,82.3 L447.4,83.7 L449.9,81.3 L452.4,81.6 L455,81.6 L457.5,81.5 L460,82.4 L462.5,84.6 L465,84.9 L467.5,86.1 L470,86.4 L472.5,83.2 L475,82.2 L477.6,81.8 L480.1,83 L482.6,83.9 L485.1,85.1 L487.6,84.7 L490.1,83.1 L492.6,82 L495.1,82.7 L497.6,83.1 L500.2,82.4 L502.7,84.2 L505.2,85.5 L507.7,87.5 L510.2,88.5 L512.7,90.3 L515.2,89.9 L517.7,89.4 L520.2,89.6 L522.8,88.6 L525.3,88.2 L527.8,87.2 L530.3,88.3 L532.8,89.1 L535.3,89.7 L537.8,87.6 L540.3,85.4 L542.9,83.7 L545.4,83 L547.9,83.1" fill="none" stroke="#ff0000" stroke-width="2.3" stroke-linejoin="round"/>
<path d="M329.3,75H564.8" stroke="#000" stroke-width="1.7"/>
<path d="M430.8,16.2V133.9" stroke="#000" stroke-width="2"/>
<rect x="329.3" y="16.2" width="235.5" height="117.7" fill="none" stroke="#000" stroke-width="1.9"/>
<path d="M322.8,133.9H329.3" stroke="#000" stroke-width="1.9"/>
<text transform="translate(317.6,136.9) scale(0.92,1)" class="tl" text-anchor="end">-20</text>
<path d="M322.8,104.5H329.3" stroke="#000" stroke-width="1.9"/>
<text transform="translate(317.6,107.5) scale(0.92,1)" class="tl" text-anchor="end">-10</text>
<path d="M322.8,75H329.3" stroke="#000" stroke-width="1.9"/>
<text transform="translate(317.6,78) scale(0.92,1)" class="tl" text-anchor="end">0</text>
<path d="M322.8,45.6H329.3" stroke="#000" stroke-width="1.9"/>
<text transform="translate(317.6,48.6) scale(0.92,1)" class="tl" text-anchor="end">10</text>
<path d="M322.8,16.2H329.3" stroke="#000" stroke-width="1.9"/>
<text transform="translate(317.6,19.2) scale(0.92,1)" class="tl" text-anchor="end">20</text>
<path d="M330.5,133.9V140.2" stroke="#000" stroke-width="1.6"/>
<text transform="translate(330.5,151.8) scale(0.92,1)" class="tl" text-anchor="middle">1950</text>
<path d="M377.1,133.9V140.2" stroke="#000" stroke-width="1.6"/>
<text transform="translate(377.1,151.8) scale(0.92,1)" class="tl" text-anchor="middle">1980</text>
<path d="M423.7,133.9V140.2" stroke="#000" stroke-width="1.6"/>
<text transform="translate(423.7,151.8) scale(0.92,1)" class="tl" text-anchor="middle">2010</text>
<path d="M470.2,133.9V140.2" stroke="#000" stroke-width="1.6"/>
<text transform="translate(470.2,151.8) scale(0.92,1)" class="tl" text-anchor="middle">2040</text>
<path d="M516.8,133.9V140.2" stroke="#000" stroke-width="1.6"/>
<text transform="translate(516.8,151.8) scale(0.92,1)" class="tl" text-anchor="middle">2070</text>
<path d="M563.4,133.9V140.2" stroke="#000" stroke-width="1.6"/>
<text transform="translate(563.4,151.8) scale(0.92,1)" class="tl" text-anchor="middle">2100</text>
<text transform="translate(295.3,75) rotate(-90) scale(1.02,0.96)" x="0" y="3.6" class="pc" text-anchor="middle">%</text>
<text x="325.7" y="9.7" class="tt">(e) DJF CDD</text>
<path d="M347.6,221.1 L348.6,221.2 L349.6,221 L350.6,220.6 L351.6,221 L352.6,220.8 L353.6,220.3 L354.6,220.2 L355.6,220 L356.7,220 L357.7,220.2 L358.7,220.4 L359.7,220 L360.7,220.7 L361.7,220.5 L362.7,221.1 L363.7,220.9 L364.7,221 L365.7,221.9 L366.8,222.2 L367.8,222.6 L368.8,221.6 L369.8,221.5 L370.8,221.1 L371.8,220.6 L372.8,221.2 L373.8,221.3 L374.8,221.3 L375.9,220.3 L376.9,220.4 L377.9,221.2 L378.9,221.4 L379.9,221.2 L380.9,221.2 L381.9,221.9 L382.9,222.4 L383.9,222.2 L384.9,223.1 L386,223.5 L387,223.7 L388,223.1 L389,223.1 L390,223.2 L391,222.1 L392,221.6 L393,220.9 L394,220.6 L395.1,220.2 L396.1,219.6 L397.1,219.7 L398.1,220.9 L399.1,221.1 L400.1,220.8 L401.1,220.9 L402.1,221.5 L403.1,222.1 L404.1,222.2 L405.2,222.3 L406.2,222 L407.2,222.3 L408.2,222.1 L409.2,222.2 L410.2,221.8 L411.2,222 L412.2,221.6 L413.2,220.7 L414.3,220.8 L415.3,221.3 L416.3,221.5 L417.3,221.9 L418.3,221.6 L419.3,221.6 L420.3,221.5 L421.3,221.9 L422.3,222.2 L423.3,222.2 L424.4,221.7 L425.4,222 L426.4,222.2 L427.4,221.6 L428.4,222 L429.4,222.2 L430.4,222.9 L431.4,223.6 L432.4,223.2 L432.4,262 L431.4,262.5 L430.4,263.1 L429.4,264 L428.4,264.3 L427.4,264.1 L426.4,264.8 L425.4,264.9 L424.4,264 L423.3,264.1 L422.3,263.4 L421.3,263 L420.3,263.2 L419.3,262.9 L418.3,262.1 L417.3,262.3 L416.3,262.6 L415.3,263 L414.3,263.5 L413.2,263.5 L412.2,263.3 L411.2,263.8 L410.2,265 L409.2,264.9 L408.2,264.6 L407.2,264.6 L406.2,265.4 L405.2,265.7 L404.1,265.2 L403.1,265.9 L402.1,266 L401.1,266.1 L400.1,265.7 L399.1,266.4 L398.1,265.7 L397.1,266.3 L396.1,266.5 L395.1,266.1 L394,266.3 L393,266.2 L392,266.3 L391,266.4 L390,266.5 L389,265.7 L388,265.3 L387,265.4 L386,265.1 L384.9,266 L383.9,265.6 L382.9,265.6 L381.9,265.2 L380.9,264.9 L379.9,264.4 L378.9,263.7 L377.9,263.7 L376.9,263.6 L375.9,264.6 L374.8,264.4 L373.8,264.1 L372.8,263.3 L371.8,263 L370.8,263.1 L369.8,263.7 L368.8,264.1 L367.8,263.5 L366.8,263.5 L365.7,263.5 L364.7,264 L363.7,264.2 L362.7,264.1 L361.7,264.5 L360.7,264.3 L359.7,265.5 L358.7,265.3 L357.7,265.2 L356.7,265.4 L355.6,266 L354.6,265.6 L353.6,266.1 L352.6,266.2 L351.6,266.2 L350.6,266.2 L349.6,266.3 L348.6,266.6 L347.6,267Z" fill="#bdbdbd"/>
<path d="M435.1,220.5 L436.1,220.5 L437.1,221.1 L438.1,221.5 L439.1,222.4 L440.1,222.6 L441.1,222.3 L442.1,222.6 L443.1,221.5 L444.1,221.1 L445.1,220.4 L446.1,220 L447.2,220.7 L448.2,220.6 L449.2,221.1 L450.2,221 L451.2,221.6 L452.2,221.2 L453.2,221.6 L454.2,221.2 L455.2,221.4 L456.2,221.3 L457.2,221.4 L458.2,220.9 L459.2,219.7 L460.2,218.7 L461.2,218.1 L462.2,217.7 L463.2,217.4 L464.3,216.8 L465.3,215.6 L466.3,215.2 L467.3,215.2 L468.3,213.7 L469.3,213.5 L470.3,212.4 L471.3,211 L472.3,210.9 L473.3,210.9 L474.3,210.9 L475.3,211.5 L476.3,211.6 L477.3,211.9 L478.3,211.9 L479.3,212.2 L480.3,212.4 L481.4,212.1 L482.4,211.5 L483.4,211.8 L484.4,213 L485.4,212.9 L486.4,213.8 L487.4,213.4 L488.4,214.2 L489.4,216 L490.4,216.8 L491.4,217 L492.4,216.9 L493.4,217.3 L494.4,217.7 L495.4,217.6 L496.4,217.5 L497.4,217.7 L498.5,218.6 L499.5,219.1 L500.5,220.4 L501.5,220.7 L502.5,220.9 L503.5,222.3 L504.5,222.6 L505.5,221.2 L506.5,221.1 L507.5,220.6 L508.5,219.8 L509.5,219.5 L510.5,219.1 L511.5,218.8 L512.5,218.5 L513.5,217.5 L514.5,217 L515.6,217.4 L516.6,216.9 L517.6,216.9 L518.6,217.3 L519.6,217.3 L520.6,217.4 L521.6,217.4 L522.6,218.4 L523.6,218.9 L524.6,219.1 L525.6,219.4 L526.6,218.7 L527.6,217.8 L528.6,218.2 L529.6,218 L530.6,217.3 L531.6,216.9 L532.6,217.5 L533.7,217.6 L534.7,216.9 L535.7,217.1 L536.7,216.7 L537.7,217.7 L538.7,217.9 L539.7,217.7 L540.7,218.3 L541.7,219.4 L542.7,219.1 L543.7,220.2 L544.7,221.1 L545.7,221 L546.7,221.3 L547.7,221.3 L548.7,221.4 L549.7,221.1 L550.8,221 L550.8,271 L549.7,271 L548.7,270.9 L547.7,270.4 L546.7,270.8 L545.7,271.2 L544.7,270.6 L543.7,269.2 L542.7,267.8 L541.7,266.7 L540.7,266.2 L539.7,266.4 L538.7,266.5 L537.7,266.6 L536.7,266.1 L535.7,265.5 L534.7,265.7 L533.7,266 L532.6,266.1 L531.6,266.6 L530.6,266.2 L529.6,266 L528.6,265.7 L527.6,265.8 L526.6,266.1 L525.6,265.6 L524.6,265 L523.6,264.6 L522.6,264.8 L521.6,264.2 L520.6,263.6 L519.6,264 L518.6,263.3 L517.6,263 L516.6,262.9 L515.6,263.3 L514.5,263 L513.5,262.7 L512.5,263.2 L511.5,264.1 L510.5,263.6 L509.5,264.5 L508.5,264.3 L507.5,264.8 L506.5,264.9 L505.5,265.6 L504.5,265.6 L503.5,265.9 L502.5,265.5 L501.5,265 L500.5,264.9 L499.5,263.9 L498.5,263.5 L497.4,263.7 L496.4,263.2 L495.4,262.3 L494.4,262.3 L493.4,262.5 L492.4,261.8 L491.4,261.6 L490.4,262.1 L489.4,262.5 L488.4,262.2 L487.4,262.2 L486.4,261.8 L485.4,260.7 L484.4,261 L483.4,260.4 L482.4,260.8 L481.4,260.8 L480.3,261.4 L479.3,261 L478.3,260.7 L477.3,261.2 L476.3,259.8 L475.3,259.1 L474.3,258 L473.3,257.6 L472.3,258 L471.3,258.1 L470.3,258.8 L469.3,259.1 L468.3,260.1 L467.3,260.4 L466.3,260.8 L465.3,261.5 L464.3,262.2 L463.2,262.4 L462.2,262 L461.2,262.7 L460.2,263.1 L459.2,263.9 L458.2,264.4 L457.2,265.6 L456.2,265.5 L455.2,266 L454.2,265.7 L453.2,265.4 L452.2,266 L451.2,267 L450.2,266.4 L449.2,265.9 L448.2,265.3 L447.2,264.2 L446.1,263.9 L445.1,263.5 L444.1,264.3 L443.1,264.5 L442.1,264.6 L441.1,265.2 L440.1,265 L439.1,264.6 L438.1,263.9 L437.1,263.6 L436.1,263.2 L435.1,262.5Z" fill="#f6b9b9"/>
<path d="M331.9,242.5H567.7" stroke="#fff" stroke-opacity="0.55" stroke-width="4.4"/>
<path d="M347.6,244.4 L350.1,244.4 L352.7,244 L355.3,243.9 L357.8,243.5 L360.4,243.5 L363,243.4 L365.6,243.4 L368.1,242.6 L370.7,242.3 L373.3,242.3 L375.9,241.6 L378.4,241.5 L381,242.7 L383.6,243.8 L386.1,243.4 L388.7,243.1 L391.3,244.8 L393.9,246.1 L396.4,245.2 L399,243.4 L401.6,243.8 L404.1,244.4 L406.7,244.6 L409.3,243.7 L411.9,243.4 L414.4,243.7 L417,243.3 L419.6,242.9 L422.2,242.3 L424.7,242.4 L427.3,243.2 L429.9,243.4 L432.4,242.7" fill="none" stroke="#fff" stroke-opacity="0.45" stroke-width="4.8" stroke-linejoin="round"/>
<path d="M435.1,242.5 L437.6,243.5 L440.1,244.9 L442.6,243.9 L445.1,242.1 L447.7,242 L450.2,243.9 L452.7,244.1 L455.2,244.2 L457.7,242.8 L460.2,241.1 L462.7,240.5 L465.3,239.8 L467.8,237.1 L470.3,235.7 L472.8,233.2 L475.3,235.6 L477.8,237 L480.3,236.5 L482.9,236.5 L485.4,236.4 L487.9,237.1 L490.4,240.5 L492.9,240.8 L495.4,240.4 L497.9,240.8 L500.5,241.2 L503,243.1 L505.5,242.9 L508,242.1 L510.5,241.3 L513,240.4 L515.6,238.7 L518.1,239.2 L520.6,240.1 L523.1,240.5 L525.6,241.3 L528.1,241.5 L530.6,241.9 L533.2,240.8 L535.7,241.4 L538.2,241.2 L540.7,241.9 L543.2,243.2 L545.7,245.7 L548.2,245.7 L550.8,246.3" fill="none" stroke="#fff" stroke-opacity="0.45" stroke-width="4.8" stroke-linejoin="round"/>
<path d="M347.6,244.4 L350.1,244.4 L352.7,244 L355.3,243.9 L357.8,243.5 L360.4,243.5 L363,243.4 L365.6,243.4 L368.1,242.6 L370.7,242.3 L373.3,242.3 L375.9,241.6 L378.4,241.5 L381,242.7 L383.6,243.8 L386.1,243.4 L388.7,243.1 L391.3,244.8 L393.9,246.1 L396.4,245.2 L399,243.4 L401.6,243.8 L404.1,244.4 L406.7,244.6 L409.3,243.7 L411.9,243.4 L414.4,243.7 L417,243.3 L419.6,242.9 L422.2,242.3 L424.7,242.4 L427.3,243.2 L429.9,243.4 L432.4,242.7" fill="none" stroke="#000" stroke-width="2.4" stroke-linejoin="round"/>
<path d="M435.1,242.5 L437.6,243.5 L440.1,244.9 L442.6,243.9 L445.1,242.1 L447.7,242 L450.2,243.9 L452.7,244.1 L455.2,244.2 L457.7,242.8 L460.2,241.1 L462.7,240.5 L465.3,239.8 L467.8,237.1 L470.3,235.7 L472.8,233.2 L475.3,235.6 L477.8,237 L480.3,236.5 L482.9,236.5 L485.4,236.4 L487.9,237.1 L490.4,240.5 L492.9,240.8 L495.4,240.4 L497.9,240.8 L500.5,241.2 L503,243.1 L505.5,242.9 L508,242.1 L510.5,241.3 L513,240.4 L515.6,238.7 L518.1,239.2 L520.6,240.1 L523.1,240.5 L525.6,241.3 L528.1,241.5 L530.6,241.9 L533.2,240.8 L535.7,241.4 L538.2,241.2 L540.7,241.9 L543.2,243.2 L545.7,245.7 L548.2,245.7 L550.8,246.3" fill="none" stroke="#ff0000" stroke-width="2.3" stroke-linejoin="round"/>
<path d="M331.9,242.5H567.7" stroke="#000" stroke-width="1.7"/>
<path d="M433.5,183.7V301.4" stroke="#000" stroke-width="2"/>
<rect x="331.9" y="183.7" width="235.8" height="117.7" fill="none" stroke="#000" stroke-width="1.9"/>
<path d="M325.4,301.4H331.9" stroke="#000" stroke-width="1.9"/>
<text transform="translate(320.2,304.4) scale(0.92,1)" class="tl" text-anchor="end">-20</text>
<path d="M325.4,272H331.9" stroke="#000" stroke-width="1.9"/>
<text transform="translate(320.2,275) scale(0.92,1)" class="tl" text-anchor="end">-10</text>
<path d="M325.4,242.5H331.9" stroke="#000" stroke-width="1.9"/>
<text transform="translate(320.2,245.5) scale(0.92,1)" class="tl" text-anchor="end">0</text>
<path d="M325.4,213.1H331.9" stroke="#000" stroke-width="1.9"/>
<text transform="translate(320.2,216.1) scale(0.92,1)" class="tl" text-anchor="end">10</text>
<path d="M325.4,183.7H331.9" stroke="#000" stroke-width="1.9"/>
<text transform="translate(320.2,186.7) scale(0.92,1)" class="tl" text-anchor="end">20</text>
<path d="M333.1,301.4V307.7" stroke="#000" stroke-width="1.6"/>
<text transform="translate(333.1,319.3) scale(0.92,1)" class="tl" text-anchor="middle">1950</text>
<path d="M379.7,301.4V307.7" stroke="#000" stroke-width="1.6"/>
<text transform="translate(379.7,319.3) scale(0.92,1)" class="tl" text-anchor="middle">1980</text>
<path d="M426.4,301.4V307.7" stroke="#000" stroke-width="1.6"/>
<text transform="translate(426.4,319.3) scale(0.92,1)" class="tl" text-anchor="middle">2010</text>
<path d="M473,301.4V307.7" stroke="#000" stroke-width="1.6"/>
<text transform="translate(473,319.3) scale(0.92,1)" class="tl" text-anchor="middle">2040</text>
<path d="M519.7,301.4V307.7" stroke="#000" stroke-width="1.6"/>
<text transform="translate(519.7,319.3) scale(0.92,1)" class="tl" text-anchor="middle">2070</text>
<path d="M566.3,301.4V307.7" stroke="#000" stroke-width="1.6"/>
<text transform="translate(566.3,319.3) scale(0.92,1)" class="tl" text-anchor="middle">2100</text>
<text transform="translate(297.9,242.5) rotate(-90) scale(1.02,0.96)" x="0" y="3.6" class="pc" text-anchor="middle">%</text>
<text x="328.7" y="176.8" class="tt">(f) DJF CWD</text>
<path d="M347,426.2 L348,426 L349,426.1 L350.1,426.3 L351.1,425.9 L352.1,426.7 L353.1,427.1 L354.1,426.8 L355.1,427.2 L356.1,427.3 L357.1,427 L358.1,426.6 L359.1,426.6 L360.1,427.5 L361.1,427 L362.2,426.5 L363.2,427.2 L364.2,426.8 L365.2,427.2 L366.2,426.8 L367.2,427 L368.2,426.7 L369.2,426.7 L370.2,426.4 L371.2,426.7 L372.2,426.2 L373.2,426.6 L374.3,426 L375.3,425.9 L376.3,426 L377.3,426 L378.3,425.8 L379.3,426.5 L380.3,427 L381.3,427 L382.3,426.4 L383.3,426.2 L384.3,426.6 L385.3,426.8 L386.4,425.8 L387.4,426 L388.4,425.4 L389.4,426.1 L390.4,426.5 L391.4,426.1 L392.4,426.2 L393.4,426.1 L394.4,425.9 L395.4,426.6 L396.4,426.3 L397.4,425.9 L398.5,426.4 L399.5,425.4 L400.5,424.8 L401.5,425.2 L402.5,425.5 L403.5,424.9 L404.5,424.2 L405.5,424.9 L406.5,424.9 L407.5,424.3 L408.5,424.4 L409.5,424.6 L410.6,423.9 L411.6,423.9 L412.6,423.5 L413.6,423 L414.6,422.6 L415.6,422.7 L416.6,421.8 L417.6,421.3 L418.6,421.3 L419.6,421.3 L420.6,421.1 L421.6,421.1 L422.7,420.3 L423.7,419.7 L424.7,419.7 L425.7,419.3 L426.7,418.4 L427.7,417.9 L428.7,418 L429.7,418.2 L430.7,417.2 L431.7,416.3 L431.7,438.7 L430.7,439 L429.7,439 L428.7,440.1 L427.7,439.8 L426.7,440.2 L425.7,441.4 L424.7,441.3 L423.7,441.4 L422.7,442.3 L421.6,442.1 L420.6,442.6 L419.6,442.3 L418.6,442.8 L417.6,442.8 L416.6,443.4 L415.6,444 L414.6,444.9 L413.6,444.9 L412.6,444.6 L411.6,444.4 L410.6,444.9 L409.5,445.2 L408.5,445.7 L407.5,446.3 L406.5,445.9 L405.5,446.2 L404.5,446.9 L403.5,446.8 L402.5,446.8 L401.5,447.4 L400.5,447.2 L399.5,447.3 L398.5,447.3 L397.4,447.7 L396.4,447.4 L395.4,447.1 L394.4,447 L393.4,447.4 L392.4,446.7 L391.4,446.7 L390.4,446.2 L389.4,446.1 L388.4,446.4 L387.4,447 L386.4,446.3 L385.3,447.2 L384.3,446.9 L383.3,447 L382.3,446.8 L381.3,447.3 L380.3,447 L379.3,447.2 L378.3,447.4 L377.3,447 L376.3,446.9 L375.3,446.4 L374.3,446.6 L373.2,446.8 L372.2,447.6 L371.2,447.7 L370.2,447.9 L369.2,447.5 L368.2,447.3 L367.2,446.9 L366.2,447.7 L365.2,447.6 L364.2,447.5 L363.2,448.2 L362.2,447.7 L361.1,448.4 L360.1,447.9 L359.1,448.9 L358.1,448.5 L357.1,448.8 L356.1,448.5 L355.1,449.1 L354.1,448.8 L353.1,449.1 L352.1,448.6 L351.1,449.3 L350.1,450 L349,450.1 L348,449.7 L347,449.9Z" fill="#bdbdbd"/>
<path d="M434.4,415.3 L435.4,415.1 L436.4,414.1 L437.4,413.1 L438.4,412 L439.4,411.6 L440.4,411.4 L441.4,410.6 L442.4,410 L443.4,409.6 L444.4,409.1 L445.4,408.9 L446.4,408.2 L447.4,407.4 L448.4,407.8 L449.4,407.1 L450.4,407.1 L451.4,406.1 L452.4,406.2 L453.4,405.4 L454.4,405.7 L455.4,404.5 L456.4,404.7 L457.5,404.7 L458.5,404.4 L459.5,403.6 L460.5,402.9 L461.5,402.5 L462.5,401.9 L463.5,401 L464.5,400.3 L465.5,399.4 L466.5,398.8 L467.5,398.1 L468.5,398.2 L469.5,397.1 L470.5,397.1 L471.5,396 L472.5,396.5 L473.5,396.4 L474.5,397.1 L475.5,397.5 L476.5,397.6 L477.5,396.2 L478.5,395.6 L479.5,394.9 L480.5,394.4 L481.5,393.8 L482.5,393.1 L483.5,392.6 L484.5,392.3 L485.6,391.8 L486.6,392.2 L487.6,392 L488.6,391.2 L489.6,390.9 L490.6,390.8 L491.6,391 L492.6,391 L493.6,390.6 L494.6,390 L495.6,389.4 L496.6,389 L497.6,388 L498.6,387.6 L499.6,387 L500.6,386.6 L501.6,387.1 L502.6,386.8 L503.6,386.4 L504.6,385.2 L505.6,384.6 L506.6,383.8 L507.6,383.9 L508.6,382.8 L509.6,382.4 L510.6,381.5 L511.6,381.9 L512.7,381.5 L513.7,380.4 L514.7,379.4 L515.7,378.9 L516.7,379.3 L517.7,378.5 L518.7,378.1 L519.7,377.9 L520.7,376.6 L521.7,375.8 L522.7,376 L523.7,375.6 L524.7,375 L525.7,375 L526.7,374.1 L527.7,373.9 L528.7,373.4 L529.7,372.6 L530.7,372.7 L531.7,371.9 L532.7,371.3 L533.7,371.3 L534.7,371 L535.7,371.3 L536.7,371.2 L537.7,370.6 L538.7,371.1 L539.8,370.8 L540.8,370.7 L541.8,370.1 L542.8,370.3 L543.8,370.5 L544.8,370.5 L545.8,369.7 L546.8,369.8 L547.8,369.5 L548.8,368.9 L549.8,368.9 L549.8,405.1 L548.8,404.8 L547.8,404.3 L546.8,404.7 L545.8,405.6 L544.8,406.1 L543.8,405.4 L542.8,405.1 L541.8,404.5 L540.8,404.7 L539.8,404 L538.7,403.7 L537.7,403.7 L536.7,403.3 L535.7,403.4 L534.7,403.9 L533.7,404.4 L532.7,405 L531.7,405.4 L530.7,405.1 L529.7,405.5 L528.7,405.9 L527.7,406.8 L526.7,407.9 L525.7,407.9 L524.7,407.6 L523.7,408.1 L522.7,407.9 L521.7,408.2 L520.7,408.3 L519.7,408.4 L518.7,409.3 L517.7,409 L516.7,409 L515.7,409.4 L514.7,410.7 L513.7,411.3 L512.7,412.1 L511.6,412.3 L510.6,413 L509.6,413.6 L508.6,414.6 L507.6,414.7 L506.6,415.3 L505.6,416 L504.6,416.4 L503.6,417.2 L502.6,417.8 L501.6,418.2 L500.6,419 L499.6,419.1 L498.6,419.4 L497.6,420.3 L496.6,420.8 L495.6,420.8 L494.6,421.3 L493.6,421.7 L492.6,421 L491.6,421.2 L490.6,421.7 L489.6,421.4 L488.6,420.8 L487.6,421.8 L486.6,423.1 L485.6,423.8 L484.5,423.7 L483.5,423.9 L482.5,424.5 L481.5,424.4 L480.5,424.3 L479.5,424.9 L478.5,424.6 L477.5,425.4 L476.5,425.7 L475.5,426.2 L474.5,425.6 L473.5,425.9 L472.5,425.7 L471.5,425.4 L470.5,425.9 L469.5,427 L468.5,427.1 L467.5,428 L466.5,428.3 L465.5,428.9 L464.5,429.2 L463.5,429.1 L462.5,429.3 L461.5,429.7 L460.5,430.2 L459.5,430.9 L458.5,430.3 L457.5,430.9 L456.4,431.3 L455.4,431.9 L454.4,431.4 L453.4,431.5 L452.4,432 L451.4,433.2 L450.4,433.4 L449.4,434.2 L448.4,434.3 L447.4,434.5 L446.4,434.3 L445.4,435.1 L444.4,435 L443.4,435.1 L442.4,435.8 L441.4,435.6 L440.4,435.7 L439.4,436.3 L438.4,436.7 L437.4,438.1 L436.4,438.6 L435.4,438.8 L434.4,438.8Z" fill="#f6b9b9"/>
<path d="M331.4,434.7H566.7" stroke="#fff" stroke-opacity="0.55" stroke-width="4.4"/>
<path d="M347,437.9 L349.6,437.3 L352.2,437.4 L354.7,437.1 L357.3,438.2 L359.9,438.7 L362.4,439.1 L365,437.6 L367.6,436.4 L370.1,436 L372.7,435.6 L375.3,435.7 L377.8,435.6 L380.4,436.1 L383,436.5 L385.5,436 L388.1,436.4 L390.7,436.8 L393.2,436.9 L395.8,437.1 L398.4,436.7 L400.9,436.7 L403.5,436.8 L406.1,435.8 L408.6,435.6 L411.2,435.2 L413.8,433.7 L416.3,432.4 L418.9,431.2 L421.5,431 L424,430.4 L426.6,428.9 L429.2,428.4 L431.7,427.1" fill="none" stroke="#fff" stroke-opacity="0.45" stroke-width="4.8" stroke-linejoin="round"/>
<path d="M434.4,427.7 L436.9,426.6 L439.4,424.9 L441.9,424.2 L444.4,422.5 L446.9,420.6 L449.4,420.2 L451.9,420.2 L454.4,419.4 L456.9,419 L459.5,418.6 L462,416.7 L464.5,414.4 L467,412.9 L469.5,412 L472,410.8 L474.5,411.1 L477,411.9 L479.5,411.2 L482,410.2 L484.5,409.4 L487.1,407.7 L489.6,406.8 L492.1,405.8 L494.6,405.6 L497.1,403.9 L499.6,403.3 L502.1,401.9 L504.6,401.1 L507.1,399.8 L509.6,398 L512.1,396.2 L514.7,394.3 L517.2,393.9 L519.7,392.7 L522.2,392.4 L524.7,391.4 L527.2,390.8 L529.7,390.1 L532.2,388.6 L534.7,387.6 L537.2,387 L539.8,388.3 L542.3,388.8 L544.8,388 L547.3,387 L549.8,386.2" fill="none" stroke="#fff" stroke-opacity="0.45" stroke-width="4.8" stroke-linejoin="round"/>
<path d="M347,437.9 L349.6,437.3 L352.2,437.4 L354.7,437.1 L357.3,438.2 L359.9,438.7 L362.4,439.1 L365,437.6 L367.6,436.4 L370.1,436 L372.7,435.6 L375.3,435.7 L377.8,435.6 L380.4,436.1 L383,436.5 L385.5,436 L388.1,436.4 L390.7,436.8 L393.2,436.9 L395.8,437.1 L398.4,436.7 L400.9,436.7 L403.5,436.8 L406.1,435.8 L408.6,435.6 L411.2,435.2 L413.8,433.7 L416.3,432.4 L418.9,431.2 L421.5,431 L424,430.4 L426.6,428.9 L429.2,428.4 L431.7,427.1" fill="none" stroke="#000" stroke-width="2.4" stroke-linejoin="round"/>
<path d="M434.4,427.7 L436.9,426.6 L439.4,424.9 L441.9,424.2 L444.4,422.5 L446.9,420.6 L449.4,420.2 L451.9,420.2 L454.4,419.4 L456.9,419 L459.5,418.6 L462,416.7 L464.5,414.4 L467,412.9 L469.5,412 L472,410.8 L474.5,411.1 L477,411.9 L479.5,411.2 L482,410.2 L484.5,409.4 L487.1,407.7 L489.6,406.8 L492.1,405.8 L494.6,405.6 L497.1,403.9 L499.6,403.3 L502.1,401.9 L504.6,401.1 L507.1,399.8 L509.6,398 L512.1,396.2 L514.7,394.3 L517.2,393.9 L519.7,392.7 L522.2,392.4 L524.7,391.4 L527.2,390.8 L529.7,390.1 L532.2,388.6 L534.7,387.6 L537.2,387 L539.8,388.3 L542.3,388.8 L544.8,388 L547.3,387 L549.8,386.2" fill="none" stroke="#ff0000" stroke-width="2.3" stroke-linejoin="round"/>
<path d="M331.4,434.7H566.7" stroke="#000" stroke-width="1.7"/>
<path d="M432.8,356.2V474" stroke="#000" stroke-width="2"/>
<rect x="331.4" y="356.2" width="235.3" height="117.8" fill="none" stroke="#000" stroke-width="1.9"/>
<path d="M324.9,474H331.4" stroke="#000" stroke-width="1.9"/>
<text transform="translate(319.7,477) scale(0.92,1)" class="tl" text-anchor="end">-20</text>
<path d="M324.9,454.4H331.4" stroke="#000" stroke-width="1.9"/>
<text transform="translate(319.7,457.4) scale(0.92,1)" class="tl" text-anchor="end">-10</text>
<path d="M324.9,434.7H331.4" stroke="#000" stroke-width="1.9"/>
<text transform="translate(319.7,437.7) scale(0.92,1)" class="tl" text-anchor="end">0</text>
<path d="M324.9,415.1H331.4" stroke="#000" stroke-width="1.9"/>
<text transform="translate(319.7,418.1) scale(0.92,1)" class="tl" text-anchor="end">10</text>
<path d="M324.9,395.5H331.4" stroke="#000" stroke-width="1.9"/>
<text transform="translate(319.7,398.5) scale(0.92,1)" class="tl" text-anchor="end">20</text>
<path d="M324.9,375.8H331.4" stroke="#000" stroke-width="1.9"/>
<text transform="translate(319.7,378.8) scale(0.92,1)" class="tl" text-anchor="end">30</text>
<path d="M324.9,356.2H331.4" stroke="#000" stroke-width="1.9"/>
<text transform="translate(319.7,359.2) scale(0.92,1)" class="tl" text-anchor="end">40</text>
<path d="M332.6,474V480.3" stroke="#000" stroke-width="1.6"/>
<text transform="translate(332.6,491.9) scale(0.92,1)" class="tl" text-anchor="middle">1950</text>
<path d="M379.1,474V480.3" stroke="#000" stroke-width="1.6"/>
<text transform="translate(379.1,491.9) scale(0.92,1)" class="tl" text-anchor="middle">1980</text>
<path d="M425.7,474V480.3" stroke="#000" stroke-width="1.6"/>
<text transform="translate(425.7,491.9) scale(0.92,1)" class="tl" text-anchor="middle">2010</text>
<path d="M472.2,474V480.3" stroke="#000" stroke-width="1.6"/>
<text transform="translate(472.2,491.9) scale(0.92,1)" class="tl" text-anchor="middle">2040</text>
<path d="M518.8,474V480.3" stroke="#000" stroke-width="1.6"/>
<text transform="translate(518.8,491.9) scale(0.92,1)" class="tl" text-anchor="middle">2070</text>
<path d="M565.3,474V480.3" stroke="#000" stroke-width="1.6"/>
<text transform="translate(565.3,491.9) scale(0.92,1)" class="tl" text-anchor="middle">2100</text>
<text transform="translate(297.4,415.1) rotate(-90) scale(1.02,0.96)" x="0" y="3.6" class="pc" text-anchor="middle">%</text>
<text x="329.2" y="349" class="tt">(g) DJF RX5day</text>
<path d="M347,600.5 L348,600.7 L349,600.5 L350.1,600.6 L351.1,601.2 L352.1,600.9 L353.1,601.4 L354.1,601.4 L355.1,601 L356.1,601.5 L357.1,601.5 L358.1,601.3 L359.1,601.2 L360.1,600.8 L361.1,600.3 L362.2,600.1 L363.2,600.4 L364.2,599.8 L365.2,600 L366.2,599.1 L367.2,599.4 L368.2,599.7 L369.2,599.1 L370.2,599.1 L371.2,599.1 L372.2,598.8 L373.2,598.8 L374.3,598.4 L375.3,598.6 L376.3,598.7 L377.3,598.8 L378.3,599.1 L379.3,598.7 L380.3,598.3 L381.3,598 L382.3,597.8 L383.3,597.8 L384.3,597.8 L385.3,598.2 L386.4,598.2 L387.4,597.9 L388.4,597.7 L389.4,597.8 L390.4,598.1 L391.4,597.5 L392.4,597.9 L393.4,597.9 L394.4,597.9 L395.4,598 L396.4,598.1 L397.4,598.4 L398.5,598.5 L399.5,598.7 L400.5,598.2 L401.5,597.5 L402.5,597.9 L403.5,597.5 L404.5,597.6 L405.5,597.5 L406.5,597.2 L407.5,597.3 L408.5,596.9 L409.5,596.7 L410.6,597.3 L411.6,596.8 L412.6,596.3 L413.6,595.9 L414.6,596 L415.6,595.7 L416.6,595.5 L417.6,595 L418.6,595.1 L419.6,594.9 L420.6,594.3 L421.6,594.7 L422.7,594.6 L423.7,594.5 L424.7,594.1 L425.7,593.6 L426.7,593.2 L427.7,592.7 L428.7,592.3 L429.7,592.4 L430.7,591.7 L431.7,591.5 L431.7,610.4 L430.7,610.4 L429.7,610.5 L428.7,611.2 L427.7,611.5 L426.7,611.2 L425.7,612 L424.7,611.6 L423.7,611.9 L422.7,612.5 L421.6,612.6 L420.6,613 L419.6,613 L418.6,613 L417.6,614.1 L416.6,613.8 L415.6,614.1 L414.6,614.5 L413.6,615.3 L412.6,615.5 L411.6,615.4 L410.6,615.2 L409.5,616.2 L408.5,616 L407.5,615.9 L406.5,616.7 L405.5,616.6 L404.5,617.1 L403.5,617.4 L402.5,617.2 L401.5,616.9 L400.5,616.6 L399.5,616.6 L398.5,616.5 L397.4,616.6 L396.4,617.3 L395.4,617 L394.4,616.8 L393.4,616.8 L392.4,616.8 L391.4,617.2 L390.4,617.7 L389.4,617.6 L388.4,617.2 L387.4,617 L386.4,617 L385.3,617.5 L384.3,617 L383.3,616.9 L382.3,617.3 L381.3,616.8 L380.3,617.3 L379.3,616.7 L378.3,617.1 L377.3,617.5 L376.3,617.5 L375.3,617.1 L374.3,617.1 L373.2,617.6 L372.2,617.2 L371.2,618.1 L370.2,617.6 L369.2,618.3 L368.2,618.4 L367.2,618.9 L366.2,618.7 L365.2,618.9 L364.2,618.9 L363.2,618.2 L362.2,618.9 L361.1,618.7 L360.1,618.8 L359.1,619.4 L358.1,619.9 L357.1,620 L356.1,619.8 L355.1,620.2 L354.1,620.1 L353.1,619.4 L352.1,619.3 L351.1,619.8 L350.1,620.2 L349,619.7 L348,620.3 L347,620.5Z" fill="#bdbdbd"/>
<path d="M434.4,590.5 L435.4,590 L436.4,589.7 L437.4,589.1 L438.4,588.2 L439.4,587.5 L440.4,587.3 L441.4,586.5 L442.4,586 L443.4,585.9 L444.4,585.3 L445.4,584.6 L446.4,584.6 L447.4,584.5 L448.4,584.1 L449.4,583.5 L450.4,583.1 L451.4,582.6 L452.4,581.9 L453.4,581.7 L454.4,581.2 L455.4,580.4 L456.4,580.1 L457.5,580.1 L458.5,579.4 L459.5,578.6 L460.5,578.9 L461.5,578.5 L462.5,577.4 L463.5,577.3 L464.5,577.1 L465.5,576.3 L466.5,575.6 L467.5,575 L468.5,575.1 L469.5,575.5 L470.5,575.3 L471.5,574.3 L472.5,573.5 L473.5,574.3 L474.5,573.8 L475.5,573.2 L476.5,573.3 L477.5,573 L478.5,572.7 L479.5,572.4 L480.5,572.6 L481.5,572.5 L482.5,572.3 L483.5,571.2 L484.5,571.2 L485.6,571 L486.6,570 L487.6,569.7 L488.6,569.5 L489.6,569.1 L490.6,568.6 L491.6,568.1 L492.6,567.2 L493.6,567.2 L494.6,566.4 L495.6,565.8 L496.6,566 L497.6,565.3 L498.6,564.6 L499.6,564.9 L500.6,564.6 L501.6,564.4 L502.6,563.2 L503.6,563.2 L504.6,563.4 L505.6,563 L506.6,562.1 L507.6,561.9 L508.6,561.5 L509.6,560.7 L510.6,560.1 L511.6,560 L512.7,559.2 L513.7,558.8 L514.7,558 L515.7,557.9 L516.7,558 L517.7,556.8 L518.7,556 L519.7,556.1 L520.7,555.5 L521.7,555.8 L522.7,555.8 L523.7,555.8 L524.7,555.1 L525.7,555.2 L526.7,555 L527.7,554.4 L528.7,554.1 L529.7,554.3 L530.7,553.9 L531.7,553 L532.7,552.5 L533.7,552.2 L534.7,552 L535.7,551.7 L536.7,551.5 L537.7,551.4 L538.7,551.1 L539.8,551.4 L540.8,551.3 L541.8,550.8 L542.8,550.1 L543.8,549.7 L544.8,549.8 L545.8,550.2 L546.8,550.2 L547.8,548.9 L548.8,548.4 L549.8,548.3 L549.8,580.3 L548.8,581.2 L547.8,581.8 L546.8,581.6 L545.8,581.9 L544.8,581.3 L543.8,581.4 L542.8,581.4 L541.8,580.3 L540.8,580.2 L539.8,579.5 L538.7,579.6 L537.7,579.3 L536.7,578.4 L535.7,578.7 L534.7,579.1 L533.7,579.6 L532.7,580.2 L531.7,581.1 L530.7,581.8 L529.7,581.9 L528.7,581.6 L527.7,582.3 L526.7,582.8 L525.7,582.6 L524.7,583.5 L523.7,582.8 L522.7,583.5 L521.7,583.8 L520.7,584.5 L519.7,584.1 L518.7,584.1 L517.7,584.7 L516.7,584.7 L515.7,585.5 L514.7,586 L513.7,586.9 L512.7,587.9 L511.6,587.7 L510.6,589 L509.6,588.9 L508.6,590 L507.6,590 L506.6,590.2 L505.6,591.2 L504.6,590.9 L503.6,591.8 L502.6,592.4 L501.6,591.9 L500.6,592.1 L499.6,592.8 L498.6,593.1 L497.6,593.9 L496.6,594.6 L495.6,595 L494.6,595.6 L493.6,595.9 L492.6,594.9 L491.6,594.7 L490.6,594.8 L489.6,595.2 L488.6,595.4 L487.6,595.6 L486.6,596.5 L485.6,596.3 L484.5,597.2 L483.5,596.7 L482.5,597 L481.5,598 L480.5,597.6 L479.5,597.7 L478.5,598.3 L477.5,599.1 L476.5,598.9 L475.5,599.2 L474.5,599.1 L473.5,598.9 L472.5,598.8 L471.5,599.3 L470.5,600.2 L469.5,600.3 L468.5,599.7 L467.5,600.6 L466.5,600.8 L465.5,601.1 L464.5,601.7 L463.5,602.5 L462.5,602.6 L461.5,602.5 L460.5,603.6 L459.5,603.5 L458.5,603.1 L457.5,603.4 L456.4,603.8 L455.4,603.5 L454.4,604 L453.4,604.7 L452.4,604.9 L451.4,604.6 L450.4,605.2 L449.4,605.5 L448.4,605.9 L447.4,606.1 L446.4,606.3 L445.4,606 L444.4,606.2 L443.4,607 L442.4,608 L441.4,608.5 L440.4,608.7 L439.4,608.8 L438.4,608.6 L437.4,609.3 L436.4,609.8 L435.4,611 L434.4,610.9Z" fill="#f6b9b9"/>
<path d="M331.4,606.7H566.7" stroke="#fff" stroke-opacity="0.55" stroke-width="4.4"/>
<path d="M347,610.6 L349.6,610.4 L352.2,610.5 L354.7,610.6 L357.3,610.1 L359.9,610.5 L362.4,610.7 L365,609.7 L367.6,607.6 L370.1,607.2 L372.7,607.3 L375.3,607.6 L377.8,607.5 L380.4,607.5 L383,607.7 L385.5,608 L388.1,608.3 L390.7,607.9 L393.2,608.2 L395.8,608.3 L398.4,608.6 L400.9,608.9 L403.5,608.7 L406.1,608 L408.6,607.1 L411.2,606.9 L413.8,606.3 L416.3,605.9 L418.9,604.7 L421.5,603.8 L424,603.4 L426.6,602.8 L429.2,602.3 L431.7,601" fill="none" stroke="#fff" stroke-opacity="0.45" stroke-width="4.8" stroke-linejoin="round"/>
<path d="M434.4,600.6 L436.9,599.3 L439.4,598.4 L441.9,597.4 L444.4,595.9 L446.9,595 L449.4,594.3 L451.9,594.3 L454.4,593.8 L456.9,592.6 L459.5,591.7 L462,590.1 L464.5,588.9 L467,587.9 L469.5,587.2 L472,586.1 L474.5,587 L477,586.7 L479.5,585.8 L482,584.9 L484.5,583.8 L487.1,582.7 L489.6,582.5 L492.1,582.3 L494.6,581.9 L497.1,581.1 L499.6,579.3 L502.1,577.9 L504.6,577.1 L507.1,576 L509.6,575.1 L512.1,573.5 L514.7,572.4 L517.2,570.8 L519.7,570.6 L522.2,570.7 L524.7,569.2 L527.2,568.6 L529.7,568.4 L532.2,567.1 L534.7,566 L537.2,565.5 L539.8,565.3 L542.3,566.3 L544.8,566.3 L547.3,565.9 L549.8,564.1" fill="none" stroke="#fff" stroke-opacity="0.45" stroke-width="4.8" stroke-linejoin="round"/>
<path d="M347,610.6 L349.6,610.4 L352.2,610.5 L354.7,610.6 L357.3,610.1 L359.9,610.5 L362.4,610.7 L365,609.7 L367.6,607.6 L370.1,607.2 L372.7,607.3 L375.3,607.6 L377.8,607.5 L380.4,607.5 L383,607.7 L385.5,608 L388.1,608.3 L390.7,607.9 L393.2,608.2 L395.8,608.3 L398.4,608.6 L400.9,608.9 L403.5,608.7 L406.1,608 L408.6,607.1 L411.2,606.9 L413.8,606.3 L416.3,605.9 L418.9,604.7 L421.5,603.8 L424,603.4 L426.6,602.8 L429.2,602.3 L431.7,601" fill="none" stroke="#000" stroke-width="2.4" stroke-linejoin="round"/>
<path d="M434.4,600.6 L436.9,599.3 L439.4,598.4 L441.9,597.4 L444.4,595.9 L446.9,595 L449.4,594.3 L451.9,594.3 L454.4,593.8 L456.9,592.6 L459.5,591.7 L462,590.1 L464.5,588.9 L467,587.9 L469.5,587.2 L472,586.1 L474.5,587 L477,586.7 L479.5,585.8 L482,584.9 L484.5,583.8 L487.1,582.7 L489.6,582.5 L492.1,582.3 L494.6,581.9 L497.1,581.1 L499.6,579.3 L502.1,577.9 L504.6,577.1 L507.1,576 L509.6,575.1 L512.1,573.5 L514.7,572.4 L517.2,570.8 L519.7,570.6 L522.2,570.7 L524.7,569.2 L527.2,568.6 L529.7,568.4 L532.2,567.1 L534.7,566 L537.2,565.5 L539.8,565.3 L542.3,566.3 L544.8,566.3 L547.3,565.9 L549.8,564.1" fill="none" stroke="#ff0000" stroke-width="2.3" stroke-linejoin="round"/>
<path d="M331.4,606.7H566.7" stroke="#000" stroke-width="1.7"/>
<path d="M432.8,528.2V646" stroke="#000" stroke-width="2"/>
<rect x="331.4" y="528.2" width="235.3" height="117.8" fill="none" stroke="#000" stroke-width="1.9"/>
<path d="M324.9,646H331.4" stroke="#000" stroke-width="1.9"/>
<text transform="translate(319.7,649) scale(0.92,1)" class="tl" text-anchor="end">-20</text>
<path d="M324.9,626.4H331.4" stroke="#000" stroke-width="1.9"/>
<text transform="translate(319.7,629.4) scale(0.92,1)" class="tl" text-anchor="end">-10</text>
<path d="M324.9,606.7H331.4" stroke="#000" stroke-width="1.9"/>
<text transform="translate(319.7,609.7) scale(0.92,1)" class="tl" text-anchor="end">0</text>
<path d="M324.9,587.1H331.4" stroke="#000" stroke-width="1.9"/>
<text transform="translate(319.7,590.1) scale(0.92,1)" class="tl" text-anchor="end">10</text>
<path d="M324.9,567.5H331.4" stroke="#000" stroke-width="1.9"/>
<text transform="translate(319.7,570.5) scale(0.92,1)" class="tl" text-anchor="end">20</text>
<path d="M324.9,547.8H331.4" stroke="#000" stroke-width="1.9"/>
<text transform="translate(319.7,550.8) scale(0.92,1)" class="tl" text-anchor="end">30</text>
<path d="M324.9,528.2H331.4" stroke="#000" stroke-width="1.9"/>
<text transform="translate(319.7,531.2) scale(0.92,1)" class="tl" text-anchor="end">40</text>
<path d="M332.6,646V652.3" stroke="#000" stroke-width="1.6"/>
<text transform="translate(332.6,663.9) scale(0.92,1)" class="tl" text-anchor="middle">1950</text>
<path d="M379.1,646V652.3" stroke="#000" stroke-width="1.6"/>
<text transform="translate(379.1,663.9) scale(0.92,1)" class="tl" text-anchor="middle">1980</text>
<path d="M425.7,646V652.3" stroke="#000" stroke-width="1.6"/>
<text transform="translate(425.7,663.9) scale(0.92,1)" class="tl" text-anchor="middle">2010</text>
<path d="M472.2,646V652.3" stroke="#000" stroke-width="1.6"/>
<text transform="translate(472.2,663.9) scale(0.92,1)" class="tl" text-anchor="middle">2040</text>
<path d="M518.8,646V652.3" stroke="#000" stroke-width="1.6"/>
<text transform="translate(518.8,663.9) scale(0.92,1)" class="tl" text-anchor="middle">2070</text>
<path d="M565.3,646V652.3" stroke="#000" stroke-width="1.6"/>
<text transform="translate(565.3,663.9) scale(0.92,1)" class="tl" text-anchor="middle">2100</text>
<text transform="translate(297.4,587.1) rotate(-90) scale(1.02,0.96)" x="0" y="3.6" class="pc" text-anchor="middle">%</text>
<text x="329.4" y="521.7" class="tt">(h) DJF R95pTOT</text>
<text x="155" y="332.6" class="ys" text-anchor="middle">Year</text>
<text x="155.8" y="683.8" class="yb" text-anchor="middle">Year</text>
<text x="445" y="683.8" class="yb" text-anchor="middle">Year</text>
</svg>
</body></html>
